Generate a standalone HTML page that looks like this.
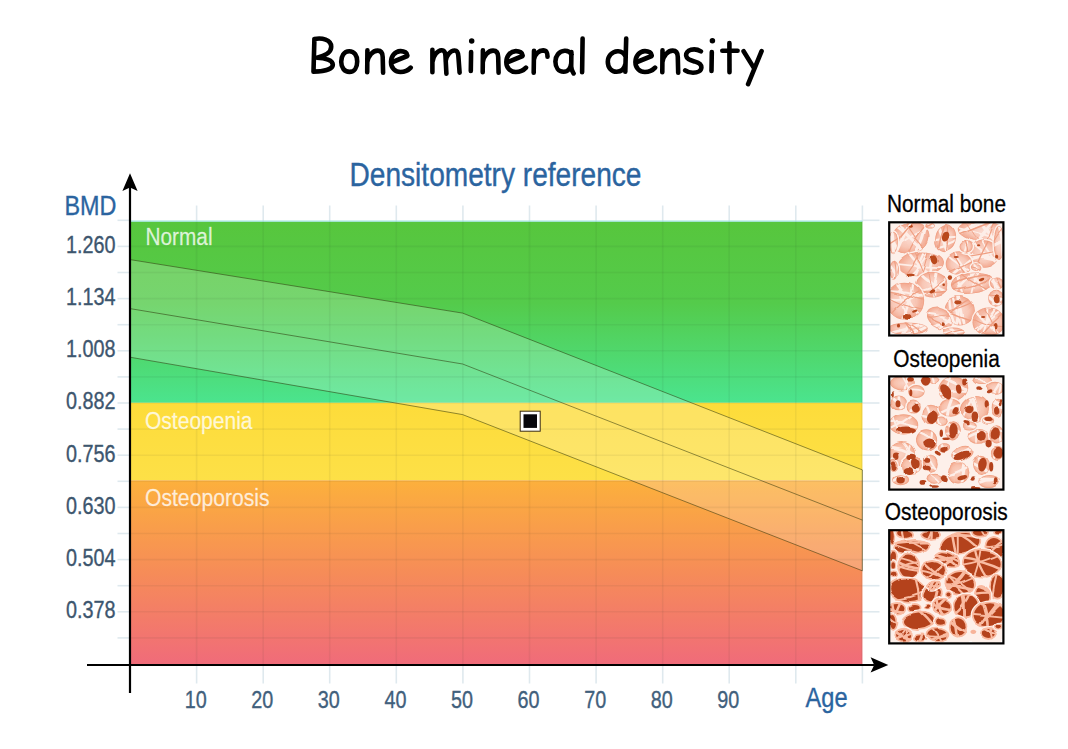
<!DOCTYPE html>
<html><head><meta charset="utf-8"><title>Bone mineral density</title>
<style>
html,body{margin:0;padding:0;background:#fff;}
body{width:1068px;height:749px;overflow:hidden;font-family:"Liberation Sans",sans-serif;}
svg{display:block;}
text{font-family:"Liberation Sans",sans-serif;}
</style></head><body>
<svg width="1068" height="749" viewBox="0 0 1068 749">
<defs>
<linearGradient id="gG" x1="0" y1="0" x2="0" y2="1">
<stop offset="0" stop-color="#57c63d"/><stop offset="0.45" stop-color="#54cb4b"/><stop offset="1" stop-color="#4be48e"/>
</linearGradient>
<linearGradient id="gY" x1="0" y1="0" x2="0" y2="1">
<stop offset="0" stop-color="#fddc3a"/><stop offset="1" stop-color="#fde047"/>
</linearGradient>
<linearGradient id="gR" x1="0" y1="0" x2="0" y2="1">
<stop offset="0" stop-color="#fcb03c"/><stop offset="0.5" stop-color="#f68c58"/><stop offset="1" stop-color="#f06b7a"/>
</linearGradient>
<radialGradient id="salmG" cx="0.5" cy="0.5" r="0.5"><stop offset="0" stop-color="#fbdad0"/><stop offset="0.6" stop-color="#f8c7b6"/><stop offset="1" stop-color="#f2a78e"/></radialGradient>
<radialGradient id="salmG2" cx="0.5" cy="0.5" r="0.5"><stop offset="0" stop-color="#fad2c4"/><stop offset="0.65" stop-color="#f8c2ad"/><stop offset="1" stop-color="#f3a98e"/></radialGradient>
<filter id="soft" x="-5%" y="-5%" width="110%" height="110%"><feTurbulence type="fractalNoise" baseFrequency="0.035" numOctaves="1" seed="4" result="n"/><feDisplacementMap in="SourceGraphic" in2="n" scale="7" xChannelSelector="R" yChannelSelector="G" result="d"/><feGaussianBlur in="d" stdDeviation="0.6"/></filter>
</defs>
<rect width="{W}" height="{H}" fill="#fff"/>

<g stroke="#dfe9ee" stroke-width="1.6">
<line x1="117.5" y1="220.3" x2="130.0" y2="220.3"/>
<line x1="862.4" y1="220.3" x2="879.5" y2="220.3"/>
<line x1="117.5" y1="246.4" x2="130.0" y2="246.4"/>
<line x1="862.4" y1="246.4" x2="879.5" y2="246.4"/>
<line x1="117.5" y1="272.5" x2="130.0" y2="272.5"/>
<line x1="862.4" y1="272.5" x2="879.5" y2="272.5"/>
<line x1="117.5" y1="298.6" x2="130.0" y2="298.6"/>
<line x1="862.4" y1="298.6" x2="879.5" y2="298.6"/>
<line x1="117.5" y1="324.7" x2="130.0" y2="324.7"/>
<line x1="862.4" y1="324.7" x2="879.5" y2="324.7"/>
<line x1="117.5" y1="350.8" x2="130.0" y2="350.8"/>
<line x1="862.4" y1="350.8" x2="879.5" y2="350.8"/>
<line x1="117.5" y1="376.9" x2="130.0" y2="376.9"/>
<line x1="862.4" y1="376.9" x2="879.5" y2="376.9"/>
<line x1="117.5" y1="403.0" x2="130.0" y2="403.0"/>
<line x1="862.4" y1="403.0" x2="879.5" y2="403.0"/>
<line x1="117.5" y1="429.1" x2="130.0" y2="429.1"/>
<line x1="862.4" y1="429.1" x2="879.5" y2="429.1"/>
<line x1="117.5" y1="455.2" x2="130.0" y2="455.2"/>
<line x1="862.4" y1="455.2" x2="879.5" y2="455.2"/>
<line x1="117.5" y1="481.3" x2="130.0" y2="481.3"/>
<line x1="862.4" y1="481.3" x2="879.5" y2="481.3"/>
<line x1="117.5" y1="507.4" x2="130.0" y2="507.4"/>
<line x1="862.4" y1="507.4" x2="879.5" y2="507.4"/>
<line x1="117.5" y1="533.5" x2="130.0" y2="533.5"/>
<line x1="862.4" y1="533.5" x2="879.5" y2="533.5"/>
<line x1="117.5" y1="559.6" x2="130.0" y2="559.6"/>
<line x1="862.4" y1="559.6" x2="879.5" y2="559.6"/>
<line x1="117.5" y1="585.7" x2="130.0" y2="585.7"/>
<line x1="862.4" y1="585.7" x2="879.5" y2="585.7"/>
<line x1="117.5" y1="611.8" x2="130.0" y2="611.8"/>
<line x1="862.4" y1="611.8" x2="879.5" y2="611.8"/>
<line x1="117.5" y1="637.9" x2="130.0" y2="637.9"/>
<line x1="862.4" y1="637.9" x2="879.5" y2="637.9"/>
<line x1="196.6" y1="205.5" x2="196.6" y2="221.5"/>
<line x1="196.6" y1="664.0" x2="196.6" y2="683.5"/>
<line x1="263.2" y1="205.5" x2="263.2" y2="221.5"/>
<line x1="263.2" y1="664.0" x2="263.2" y2="683.5"/>
<line x1="329.7" y1="205.5" x2="329.7" y2="221.5"/>
<line x1="329.7" y1="664.0" x2="329.7" y2="683.5"/>
<line x1="396.3" y1="205.5" x2="396.3" y2="221.5"/>
<line x1="396.3" y1="664.0" x2="396.3" y2="683.5"/>
<line x1="462.9" y1="205.5" x2="462.9" y2="221.5"/>
<line x1="462.9" y1="664.0" x2="462.9" y2="683.5"/>
<line x1="529.5" y1="205.5" x2="529.5" y2="221.5"/>
<line x1="529.5" y1="664.0" x2="529.5" y2="683.5"/>
<line x1="596.1" y1="205.5" x2="596.1" y2="221.5"/>
<line x1="596.1" y1="664.0" x2="596.1" y2="683.5"/>
<line x1="662.7" y1="205.5" x2="662.7" y2="221.5"/>
<line x1="662.7" y1="664.0" x2="662.7" y2="683.5"/>
<line x1="729.2" y1="205.5" x2="729.2" y2="221.5"/>
<line x1="729.2" y1="664.0" x2="729.2" y2="683.5"/>
<line x1="795.8" y1="205.5" x2="795.8" y2="221.5"/>
<line x1="795.8" y1="664.0" x2="795.8" y2="683.5"/>
<line x1="862.4" y1="205.5" x2="862.4" y2="221.5"/>
<line x1="862.4" y1="664.0" x2="862.4" y2="683.5"/>
</g>
<rect x="130.0" y="221.5" width="732.4" height="181.3" fill="url(#gG)"/>
<rect x="130.0" y="402.8" width="732.4" height="77.5" fill="url(#gY)"/>
<rect x="130.0" y="480.3" width="732.4" height="184.7" fill="url(#gR)"/>
<line x1="130.0" y1="221.2" x2="862.4" y2="221.2" stroke="#9fe6e0" stroke-width="1.2"/>
<polygon points="130.0,259.6 462.6,313.1 862.4,469.9 862.4,570.8 462.6,414.6 130.0,357.2" fill="#fff" fill-opacity="0.2"/>
<g stroke="#2a3a20" stroke-opacity="0.06" stroke-width="1.6">
<line x1="130.0" y1="246.4" x2="862.4" y2="246.4"/>
<line x1="130.0" y1="272.5" x2="862.4" y2="272.5"/>
<line x1="130.0" y1="298.6" x2="862.4" y2="298.6"/>
<line x1="130.0" y1="324.7" x2="862.4" y2="324.7"/>
<line x1="130.0" y1="350.8" x2="862.4" y2="350.8"/>
<line x1="130.0" y1="376.9" x2="862.4" y2="376.9"/>
<line x1="130.0" y1="403.0" x2="862.4" y2="403.0"/>
<line x1="130.0" y1="429.1" x2="862.4" y2="429.1"/>
<line x1="130.0" y1="455.2" x2="862.4" y2="455.2"/>
<line x1="130.0" y1="481.3" x2="862.4" y2="481.3"/>
<line x1="130.0" y1="507.4" x2="862.4" y2="507.4"/>
<line x1="130.0" y1="533.5" x2="862.4" y2="533.5"/>
<line x1="130.0" y1="559.6" x2="862.4" y2="559.6"/>
<line x1="130.0" y1="585.7" x2="862.4" y2="585.7"/>
<line x1="130.0" y1="611.8" x2="862.4" y2="611.8"/>
<line x1="130.0" y1="637.9" x2="862.4" y2="637.9"/>
<line x1="196.6" y1="221.5" x2="196.6" y2="664.0"/>
<line x1="263.2" y1="221.5" x2="263.2" y2="664.0"/>
<line x1="329.7" y1="221.5" x2="329.7" y2="664.0"/>
<line x1="396.3" y1="221.5" x2="396.3" y2="664.0"/>
<line x1="462.9" y1="221.5" x2="462.9" y2="664.0"/>
<line x1="529.5" y1="221.5" x2="529.5" y2="664.0"/>
<line x1="596.1" y1="221.5" x2="596.1" y2="664.0"/>
<line x1="662.7" y1="221.5" x2="662.7" y2="664.0"/>
<line x1="729.2" y1="221.5" x2="729.2" y2="664.0"/>
<line x1="795.8" y1="221.5" x2="795.8" y2="664.0"/>
<line x1="861.8" y1="221.5" x2="861.8" y2="664.0"/>
</g>
<g fill="none" stroke="#2a3208" stroke-opacity="0.62" stroke-width="0.85">
<polygon points="130.0,259.6 462.6,313.1 862.4,469.9 862.4,570.8 462.6,414.6 130.0,357.2"/>
<polyline points="130.0,308.6 462.6,364.0 862.4,520.1"/>
</g>
<text x="145.5" y="245.4" textLength="67" fill="#fff" fill-opacity="0.78" stroke="#fff" stroke-opacity="0.5" stroke-width="0.3" font-size="23.5" lengthAdjust="spacingAndGlyphs">Normal</text>
<text x="145" y="429" textLength="107.5" fill="#fff" fill-opacity="0.78" stroke="#fff" stroke-opacity="0.5" stroke-width="0.3" font-size="23.5" lengthAdjust="spacingAndGlyphs">Osteopenia</text>
<text x="145" y="506.4" textLength="124.5" fill="#fff" fill-opacity="0.78" stroke="#fff" stroke-opacity="0.5" stroke-width="0.3" font-size="23.5" lengthAdjust="spacingAndGlyphs">Osteoporosis</text>
<rect x="520.2" y="411.2" width="20" height="20" fill="#fff" stroke="#3a2c10" stroke-width="1"/>
<rect x="523.5" y="414.3" width="13.5" height="13.6" fill="#07070c"/>
<g stroke="#000" stroke-width="2.2" fill="none">
<line x1="130" y1="186" x2="130" y2="693"/>
<line x1="87" y1="665" x2="874" y2="665"/>
</g>
<path d="M130 173.2 L137.6 191 L130 187.6 L122.4 191 Z" fill="#000"/>
<path d="M888.3 665 L870.6 657.3 L874.2 665 L870.6 672.6 Z" fill="#000"/>
<text x="115.6" y="252.7" text-anchor="end" textLength="49.5" lengthAdjust="spacingAndGlyphs" font-size="23" fill="#3d566e" stroke="#3d566e" stroke-width="0.35">1.260</text>
<text x="115.6" y="304.9" text-anchor="end" textLength="49.5" lengthAdjust="spacingAndGlyphs" font-size="23" fill="#3d566e" stroke="#3d566e" stroke-width="0.35">1.134</text>
<text x="115.6" y="357.1" text-anchor="end" textLength="49.5" lengthAdjust="spacingAndGlyphs" font-size="23" fill="#3d566e" stroke="#3d566e" stroke-width="0.35">1.008</text>
<text x="115.6" y="409.3" text-anchor="end" textLength="49.5" lengthAdjust="spacingAndGlyphs" font-size="23" fill="#3d566e" stroke="#3d566e" stroke-width="0.35">0.882</text>
<text x="115.6" y="461.5" text-anchor="end" textLength="49.5" lengthAdjust="spacingAndGlyphs" font-size="23" fill="#3d566e" stroke="#3d566e" stroke-width="0.35">0.756</text>
<text x="115.6" y="513.7" text-anchor="end" textLength="49.5" lengthAdjust="spacingAndGlyphs" font-size="23" fill="#3d566e" stroke="#3d566e" stroke-width="0.35">0.630</text>
<text x="115.6" y="565.9" text-anchor="end" textLength="49.5" lengthAdjust="spacingAndGlyphs" font-size="23" fill="#3d566e" stroke="#3d566e" stroke-width="0.35">0.504</text>
<text x="115.6" y="618.1" text-anchor="end" textLength="49.5" lengthAdjust="spacingAndGlyphs" font-size="23" fill="#3d566e" stroke="#3d566e" stroke-width="0.35">0.378</text>
<text x="195.7" y="708.2" text-anchor="middle" textLength="22.0" lengthAdjust="spacingAndGlyphs" font-size="24" fill="#41607c" stroke="#41607c" stroke-width="0.35">10</text>
<text x="262.3" y="708.2" text-anchor="middle" textLength="22.0" lengthAdjust="spacingAndGlyphs" font-size="24" fill="#41607c" stroke="#41607c" stroke-width="0.35">20</text>
<text x="328.8" y="708.2" text-anchor="middle" textLength="22.0" lengthAdjust="spacingAndGlyphs" font-size="24" fill="#41607c" stroke="#41607c" stroke-width="0.35">30</text>
<text x="395.4" y="708.2" text-anchor="middle" textLength="22.0" lengthAdjust="spacingAndGlyphs" font-size="24" fill="#41607c" stroke="#41607c" stroke-width="0.35">40</text>
<text x="462.0" y="708.2" text-anchor="middle" textLength="22.0" lengthAdjust="spacingAndGlyphs" font-size="24" fill="#41607c" stroke="#41607c" stroke-width="0.35">50</text>
<text x="528.6" y="708.2" text-anchor="middle" textLength="22.0" lengthAdjust="spacingAndGlyphs" font-size="24" fill="#41607c" stroke="#41607c" stroke-width="0.35">60</text>
<text x="595.2" y="708.2" text-anchor="middle" textLength="22.0" lengthAdjust="spacingAndGlyphs" font-size="24" fill="#41607c" stroke="#41607c" stroke-width="0.35">70</text>
<text x="661.8" y="708.2" text-anchor="middle" textLength="22.0" lengthAdjust="spacingAndGlyphs" font-size="24" fill="#41607c" stroke="#41607c" stroke-width="0.35">80</text>
<text x="728.3" y="708.2" text-anchor="middle" textLength="22.0" lengthAdjust="spacingAndGlyphs" font-size="24" fill="#41607c" stroke="#41607c" stroke-width="0.35">90</text>
<text x="64.4" y="214.6" textLength="52" lengthAdjust="spacingAndGlyphs" font-size="27.6" fill="#2b649f" stroke="#2b649f" stroke-width="0.35">BMD</text>
<text x="805.6" y="706.6" textLength="42" lengthAdjust="spacingAndGlyphs" font-size="27.4" fill="#2b649f" stroke="#2b649f" stroke-width="0.35">Age</text>
<text x="349.5" y="186.4" textLength="292" lengthAdjust="spacingAndGlyphs" font-size="33" fill="#2b649f" stroke="#2b649f" stroke-width="0.4">Densitometry reference</text>
<!--BONES-->
<text x="887.0" y="212.4" textLength="119" lengthAdjust="spacingAndGlyphs" font-size="23.3" fill="#000" stroke="#000" stroke-width="0.3">Normal bone</text>
<clipPath id="bnc"><rect x="889.3" y="222.4" width="114.0" height="113.0"/></clipPath>
<g clip-path="url(#bnc)" filter="url(#soft)">
<rect x="889.3" y="222.4" width="114.0" height="113.0" fill="#fdf0ea"/>
<clipPath id="bn0"><ellipse cx="910.0" cy="238.2" rx="19.9" ry="16.1" transform="rotate(-20 910.0 238.2)"/></clipPath>
<ellipse cx="910.0" cy="238.2" rx="21.3" ry="17.5" fill="#fdf0ea" transform="rotate(-20 910.0 238.2)"/>
<g clip-path="url(#bn0)">
<ellipse cx="910.0" cy="238.2" rx="19.9" ry="16.1" fill="url(#salmG)" transform="rotate(-20 910.0 238.2)"/>
<path d="M892.0 222.5 Q911.0 237.1 927.0 254.9" stroke="#fdeee8" stroke-width="2.66" fill="none"/>
<path d="M926.4 218.7 Q924.7 243.8 908.0 262.6" stroke="#fdeee8" stroke-width="3.01" fill="none"/>
<path d="M897.1 218.3 Q907.5 241.3 929.8 252.9" stroke="#fdeee8" stroke-width="2.46" fill="none"/>
<path d="M931.0 226.8 Q909.1 236.5 889.5 250.2" stroke="#fdeee8" stroke-width="1.98" fill="none"/>
<path d="M913.8 214.3 Q903.7 235.9 894.2 257.8" stroke="#fdeee8" stroke-width="2.86" fill="none"/>
<path d="M928.9 221.0 Q913.0 239.3 904.5 261.9" stroke="#ef9f82" stroke-width="1.27" fill="none"/>
<path d="M902.9 214.9 Q911.9 237.8 930.8 253.6" stroke="#ef9f82" stroke-width="1.18" fill="none"/>
<path d="M919.9 216.3 Q902.0 232.5 889.7 253.2" stroke="#ef9f82" stroke-width="1.50" fill="none"/>
<ellipse cx="910.0" cy="238.2" rx="19.9" ry="16.1" fill="none" transform="rotate(-20 910.0 238.2)" stroke="#ef9d80" stroke-width="1.4" stroke-opacity="0.7"/>
</g>
<clipPath id="bn1"><ellipse cx="945.6" cy="238.6" rx="10.4" ry="13.6" transform="rotate(10 945.6 238.6)"/></clipPath>
<ellipse cx="945.6" cy="238.6" rx="11.8" ry="15.1" fill="#fdf0ea" transform="rotate(10 945.6 238.6)"/>
<g clip-path="url(#bn1)">
<ellipse cx="945.6" cy="238.6" rx="10.4" ry="13.6" fill="url(#salmG)" transform="rotate(10 945.6 238.6)"/>
<path d="M937.7 224.3 Q943.5 239.5 948.2 255.2" stroke="#fdeee8" stroke-width="3.15" fill="none"/>
<path d="M962.2 237.1 Q948.6 247.0 931.8 249.2" stroke="#fdeee8" stroke-width="2.08" fill="none"/>
<path d="M961.9 237.6 Q945.5 237.9 929.4 241.1" stroke="#fdeee8" stroke-width="2.20" fill="none"/>
<path d="M947.1 222.2 Q948.4 238.6 946.3 254.9" stroke="#ef9f82" stroke-width="1.26" fill="none"/>
<path d="M946.2 221.5 Q940.0 236.7 937.7 253.0" stroke="#ef9f82" stroke-width="1.51" fill="none"/>
<ellipse cx="945.6" cy="238.6" rx="10.4" ry="13.6" fill="none" transform="rotate(10 945.6 238.6)" stroke="#ef9d80" stroke-width="1.4" stroke-opacity="0.7"/>
</g>
<clipPath id="bn2"><ellipse cx="982.2" cy="231.8" rx="24.6" ry="11.3" transform="rotate(5 982.2 231.8)"/></clipPath>
<ellipse cx="982.2" cy="231.8" rx="26.0" ry="12.8" fill="#fdf0ea" transform="rotate(5 982.2 231.8)"/>
<g clip-path="url(#bn2)">
<ellipse cx="982.2" cy="231.8" rx="24.6" ry="11.3" fill="url(#salmG)" transform="rotate(5 982.2 231.8)"/>
<path d="M1004.0 214.4 Q975.9 224.1 950.9 240.2" stroke="#fdeee8" stroke-width="1.99" fill="none"/>
<path d="M1004.5 215.0 Q974.3 220.0 951.1 240.0" stroke="#fdeee8" stroke-width="2.60" fill="none"/>
<path d="M1005.5 210.6 Q981.8 229.4 968.8 256.7" stroke="#fdeee8" stroke-width="2.61" fill="none"/>
<path d="M971.2 206.0 Q984.0 233.6 1008.1 252.1" stroke="#fdeee8" stroke-width="3.23" fill="none"/>
<path d="M952.0 226.7 Q980.8 233.0 1008.7 242.9" stroke="#fdeee8" stroke-width="1.98" fill="none"/>
<path d="M959.6 209.9 Q971.3 238.1 995.2 257.0" stroke="#ef9f82" stroke-width="0.87" fill="none"/>
<path d="M1002.0 205.8 Q987.4 231.9 981.2 261.1" stroke="#ef9f82" stroke-width="1.08" fill="none"/>
<path d="M1005.7 216.5 Q978.2 227.1 950.8 238.0" stroke="#ef9f82" stroke-width="1.56" fill="none"/>
<ellipse cx="982.2" cy="231.8" rx="24.6" ry="11.3" fill="none" transform="rotate(5 982.2 231.8)" stroke="#ef9d80" stroke-width="1.4" stroke-opacity="0.7"/>
</g>
<clipPath id="bn3"><ellipse cx="983.8" cy="253.5" rx="15.1" ry="13.2"/></clipPath>
<ellipse cx="983.8" cy="253.5" rx="16.6" ry="14.7" fill="#fdf0ea"/>
<g clip-path="url(#bn3)">
<ellipse cx="983.8" cy="253.5" rx="15.1" ry="13.2" fill="url(#salmG)"/>
<path d="M978.3 235.6 Q987.5 251.3 998.7 265.6" stroke="#fdeee8" stroke-width="1.80" fill="none"/>
<path d="M969.7 242.0 Q983.7 253.7 999.3 263.1" stroke="#fdeee8" stroke-width="1.98" fill="none"/>
<path d="M965.1 255.4 Q983.4 255.5 1001.1 260.2" stroke="#fdeee8" stroke-width="3.19" fill="none"/>
<path d="M1001.5 249.0 Q984.4 255.3 967.1 260.6" stroke="#fdeee8" stroke-width="2.53" fill="none"/>
<path d="M990.5 236.6 Q981.9 252.6 974.7 269.3" stroke="#ef9f82" stroke-width="1.29" fill="none"/>
<path d="M1001.6 250.0 Q983.9 254.2 965.9 256.7" stroke="#ef9f82" stroke-width="1.36" fill="none"/>
<ellipse cx="983.8" cy="253.5" rx="15.1" ry="13.2" fill="none" stroke="#ef9d80" stroke-width="1.4" stroke-opacity="0.7"/>
</g>
<clipPath id="bn4"><ellipse cx="920.5" cy="263.9" rx="23.6" ry="12.3" transform="rotate(-5 920.5 263.9)"/></clipPath>
<ellipse cx="920.5" cy="263.9" rx="25.1" ry="13.7" fill="#fdf0ea" transform="rotate(-5 920.5 263.9)"/>
<g clip-path="url(#bn4)">
<ellipse cx="920.5" cy="263.9" rx="23.6" ry="12.3" fill="url(#salmG)" transform="rotate(-5 920.5 263.9)"/>
<path d="M902.5 243.0 Q916.9 269.2 944.2 281.5" stroke="#fdeee8" stroke-width="2.53" fill="none"/>
<path d="M935.0 236.7 Q932.4 264.9 926.4 292.7" stroke="#fdeee8" stroke-width="2.62" fill="none"/>
<path d="M892.0 263.4 Q920.1 267.8 948.6 266.9" stroke="#fdeee8" stroke-width="1.84" fill="none"/>
<path d="M932.2 237.9 Q917.8 262.6 910.1 290.1" stroke="#fdeee8" stroke-width="2.28" fill="none"/>
<path d="M933.6 239.7 Q924.0 268.0 899.3 284.9" stroke="#fdeee8" stroke-width="1.84" fill="none"/>
<path d="M927.0 237.0 Q916.3 263.8 897.2 285.3" stroke="#ef9f82" stroke-width="1.17" fill="none"/>
<path d="M932.3 237.3 Q926.7 265.2 916.0 291.6" stroke="#ef9f82" stroke-width="1.07" fill="none"/>
<path d="M907.3 238.3 Q922.2 262.7 929.9 290.3" stroke="#ef9f82" stroke-width="1.11" fill="none"/>
<ellipse cx="920.5" cy="263.9" rx="23.6" ry="12.3" fill="none" transform="rotate(-5 920.5 263.9)" stroke="#ef9d80" stroke-width="1.4" stroke-opacity="0.7"/>
</g>
<clipPath id="bn5"><ellipse cx="958.9" cy="263.9" rx="13.2" ry="11.7"/></clipPath>
<ellipse cx="958.9" cy="263.9" rx="14.7" ry="13.2" fill="#fdf0ea"/>
<g clip-path="url(#bn5)">
<ellipse cx="958.9" cy="263.9" rx="13.2" ry="11.7" fill="url(#salmG)"/>
<path d="M974.6 257.2 Q962.1 267.1 950.6 278.1" stroke="#fdeee8" stroke-width="2.85" fill="none"/>
<path d="M952.7 249.1 Q958.9 264.1 970.6 275.4" stroke="#fdeee8" stroke-width="2.11" fill="none"/>
<path d="M946.1 254.5 Q958.1 265.1 972.6 272.1" stroke="#fdeee8" stroke-width="1.90" fill="none"/>
<path d="M952.2 249.5 Q957.5 264.9 969.0 276.4" stroke="#ef9f82" stroke-width="1.16" fill="none"/>
<path d="M974.9 260.0 Q961.4 268.6 946.4 274.0" stroke="#ef9f82" stroke-width="1.31" fill="none"/>
<ellipse cx="958.9" cy="263.9" rx="13.2" ry="11.7" fill="none" stroke="#ef9d80" stroke-width="1.4" stroke-opacity="0.7"/>
</g>
<clipPath id="bn6"><ellipse cx="931.7" cy="284.7" rx="16.6" ry="12.9"/></clipPath>
<ellipse cx="931.7" cy="284.7" rx="18.1" ry="14.3" fill="#fdf0ea"/>
<g clip-path="url(#bn6)">
<ellipse cx="931.7" cy="284.7" rx="16.6" ry="12.9" fill="url(#salmG)"/>
<path d="M950.6 278.2 Q933.3 288.8 913.3 292.3" stroke="#fdeee8" stroke-width="1.93" fill="none"/>
<path d="M938.1 265.2 Q932.0 284.6 934.4 304.9" stroke="#fdeee8" stroke-width="3.01" fill="none"/>
<path d="M916.7 271.7 Q931.1 286.2 950.2 293.4" stroke="#fdeee8" stroke-width="2.71" fill="none"/>
<path d="M949.4 274.8 Q936.0 290.4 916.6 297.6" stroke="#fdeee8" stroke-width="2.19" fill="none"/>
<path d="M949.7 274.8 Q935.0 288.5 917.8 298.9" stroke="#ef9f82" stroke-width="1.14" fill="none"/>
<path d="M928.0 265.1 Q927.3 285.9 938.0 303.8" stroke="#ef9f82" stroke-width="0.95" fill="none"/>
<path d="M911.6 289.5 Q931.5 295.1 951.5 290.1" stroke="#ef9f82" stroke-width="1.55" fill="none"/>
<ellipse cx="931.7" cy="284.7" rx="16.6" ry="12.9" fill="none" stroke="#ef9d80" stroke-width="1.4" stroke-opacity="0.7"/>
</g>
<clipPath id="bn7"><ellipse cx="972.5" cy="283.1" rx="20.8" ry="10.4" transform="rotate(-10 972.5 283.1)"/></clipPath>
<ellipse cx="972.5" cy="283.1" rx="22.2" ry="11.8" fill="#fdf0ea" transform="rotate(-10 972.5 283.1)"/>
<g clip-path="url(#bn7)">
<ellipse cx="972.5" cy="283.1" rx="20.8" ry="10.4" fill="url(#salmG)" transform="rotate(-10 972.5 283.1)"/>
<path d="M959.2 259.5 Q957.0 285.5 969.4 308.4" stroke="#fdeee8" stroke-width="2.08" fill="none"/>
<path d="M985.4 263.0 Q966.0 278.9 950.6 298.8" stroke="#fdeee8" stroke-width="2.53" fill="none"/>
<path d="M959.5 262.5 Q978.6 279.3 990.2 301.9" stroke="#fdeee8" stroke-width="1.85" fill="none"/>
<path d="M983.2 259.7 Q971.2 282.2 969.5 307.6" stroke="#fdeee8" stroke-width="1.82" fill="none"/>
<path d="M995.3 273.9 Q969.2 274.3 947.6 288.8" stroke="#ef9f82" stroke-width="1.49" fill="none"/>
<path d="M995.8 274.7 Q974.7 290.5 948.4 290.2" stroke="#ef9f82" stroke-width="1.38" fill="none"/>
<path d="M953.1 268.7 Q973.0 283.9 995.9 294.3" stroke="#ef9f82" stroke-width="1.22" fill="none"/>
<ellipse cx="972.5" cy="283.1" rx="20.8" ry="10.4" fill="none" transform="rotate(-10 972.5 283.1)" stroke="#ef9d80" stroke-width="1.4" stroke-opacity="0.7"/>
</g>
<clipPath id="bn8"><ellipse cx="996.6" cy="283.1" rx="7.6" ry="6.6"/></clipPath>
<ellipse cx="996.6" cy="283.1" rx="9.0" ry="8.1" fill="#fdf0ea"/>
<g clip-path="url(#bn8)">
<ellipse cx="996.6" cy="283.1" rx="7.6" ry="6.6" fill="url(#salmG)"/>
<path d="M991.3 275.1 Q993.0 284.0 996.1 292.5" stroke="#fdeee8" stroke-width="2.26" fill="none"/>
<path d="M988.5 278.1 Q994.9 284.5 1001.2 291.1" stroke="#fdeee8" stroke-width="2.92" fill="none"/>
<path d="M994.3 274.2 Q998.2 282.4 1002.5 290.4" stroke="#ef9f82" stroke-width="1.43" fill="none"/>
<ellipse cx="996.6" cy="283.1" rx="7.6" ry="6.6" fill="none" stroke="#ef9d80" stroke-width="1.4" stroke-opacity="0.7"/>
</g>
<clipPath id="bn9"><ellipse cx="996.6" cy="298.3" rx="8.5" ry="8.5"/></clipPath>
<ellipse cx="996.6" cy="298.3" rx="10.0" ry="10.0" fill="#fdf0ea"/>
<g clip-path="url(#bn9)">
<ellipse cx="996.6" cy="298.3" rx="8.5" ry="8.5" fill="url(#salmG)"/>
<path d="M986.7 295.0 Q993.9 302.8 1004.2 305.5" stroke="#fdeee8" stroke-width="2.96" fill="none"/>
<path d="M1007.2 296.2 Q998.1 300.8 989.9 306.9" stroke="#fdeee8" stroke-width="3.04" fill="none"/>
<path d="M986.8 295.0 Q997.1 295.0 1006.9 298.2" stroke="#ef9f82" stroke-width="1.22" fill="none"/>
<ellipse cx="996.6" cy="298.3" rx="8.5" ry="8.5" fill="none" stroke="#ef9d80" stroke-width="1.4" stroke-opacity="0.7"/>
</g>
<clipPath id="bn10"><ellipse cx="905.2" cy="300.7" rx="18.0" ry="18.9"/></clipPath>
<ellipse cx="905.2" cy="300.7" rx="19.4" ry="20.4" fill="#fdf0ea"/>
<g clip-path="url(#bn10)">
<ellipse cx="905.2" cy="300.7" rx="18.0" ry="18.9" fill="url(#salmG)"/>
<path d="M900.2 278.6 Q901.4 301.7 911.1 322.7" stroke="#fdeee8" stroke-width="1.75" fill="none"/>
<path d="M883.9 290.6 Q907.3 288.6 928.6 298.4" stroke="#fdeee8" stroke-width="1.85" fill="none"/>
<path d="M927.4 292.9 Q905.3 301.3 882.2 296.5" stroke="#fdeee8" stroke-width="2.50" fill="none"/>
<path d="M895.3 280.0 Q909.7 297.7 920.1 318.0" stroke="#fdeee8" stroke-width="2.72" fill="none"/>
<path d="M913.5 279.5 Q912.1 302.7 901.3 323.2" stroke="#fdeee8" stroke-width="2.24" fill="none"/>
<path d="M883.9 293.0 Q903.6 304.8 925.9 310.2" stroke="#ef9f82" stroke-width="1.11" fill="none"/>
<path d="M884.5 289.8 Q907.0 293.5 928.5 301.1" stroke="#ef9f82" stroke-width="1.28" fill="none"/>
<path d="M924.1 288.0 Q903.4 298.6 888.8 316.6" stroke="#ef9f82" stroke-width="1.29" fill="none"/>
<ellipse cx="905.2" cy="300.7" rx="18.0" ry="18.9" fill="none" stroke="#ef9d80" stroke-width="1.4" stroke-opacity="0.7"/>
</g>
<clipPath id="bn11"><ellipse cx="959.7" cy="310.3" rx="15.1" ry="14.2"/></clipPath>
<ellipse cx="959.7" cy="310.3" rx="16.6" ry="15.6" fill="#fdf0ea"/>
<g clip-path="url(#bn11)">
<ellipse cx="959.7" cy="310.3" rx="15.1" ry="14.2" fill="url(#salmG)"/>
<path d="M957.5 292.3 Q961.5 310.0 965.3 327.7" stroke="#fdeee8" stroke-width="2.80" fill="none"/>
<path d="M952.7 293.4 Q957.6 310.8 961.6 328.5" stroke="#fdeee8" stroke-width="2.12" fill="none"/>
<path d="M959.1 292.0 Q962.5 310.7 955.0 328.1" stroke="#fdeee8" stroke-width="2.39" fill="none"/>
<path d="M950.5 293.8 Q949.3 312.7 958.9 329.1" stroke="#fdeee8" stroke-width="2.31" fill="none"/>
<path d="M975.7 301.1 Q959.4 309.7 941.2 312.5" stroke="#ef9f82" stroke-width="1.17" fill="none"/>
<path d="M941.3 307.2 Q957.3 316.0 974.9 320.9" stroke="#ef9f82" stroke-width="1.48" fill="none"/>
<path d="M972.8 297.6 Q956.5 306.3 943.9 319.7" stroke="#ef9f82" stroke-width="1.25" fill="none"/>
<ellipse cx="959.7" cy="310.3" rx="15.1" ry="14.2" fill="none" stroke="#ef9d80" stroke-width="1.4" stroke-opacity="0.7"/>
</g>
<clipPath id="bn12"><ellipse cx="938.9" cy="318.4" rx="14.2" ry="10.4" transform="rotate(20 938.9 318.4)"/></clipPath>
<ellipse cx="938.9" cy="318.4" rx="15.6" ry="11.8" fill="#fdf0ea" transform="rotate(20 938.9 318.4)"/>
<g clip-path="url(#bn12)">
<ellipse cx="938.9" cy="318.4" rx="14.2" ry="10.4" fill="url(#salmG)" transform="rotate(20 938.9 318.4)"/>
<path d="M922.4 313.7 Q940.4 313.5 954.7 324.6" stroke="#fdeee8" stroke-width="1.97" fill="none"/>
<path d="M955.6 310.5 Q945.8 325.3 929.8 332.7" stroke="#fdeee8" stroke-width="1.90" fill="none"/>
<path d="M956.2 314.9 Q942.5 326.4 924.6 327.4" stroke="#fdeee8" stroke-width="3.01" fill="none"/>
<path d="M921.5 315.0 Q936.5 323.3 953.1 327.7" stroke="#ef9f82" stroke-width="1.44" fill="none"/>
<path d="M955.6 315.1 Q938.2 314.1 921.9 320.2" stroke="#ef9f82" stroke-width="0.87" fill="none"/>
<ellipse cx="938.9" cy="318.4" rx="14.2" ry="10.4" fill="none" transform="rotate(20 938.9 318.4)" stroke="#ef9d80" stroke-width="1.4" stroke-opacity="0.7"/>
</g>
<clipPath id="bn13"><ellipse cx="988.6" cy="321.6" rx="16.1" ry="14.2"/></clipPath>
<ellipse cx="988.6" cy="321.6" rx="17.5" ry="15.6" fill="#fdf0ea"/>
<g clip-path="url(#bn13)">
<ellipse cx="988.6" cy="321.6" rx="16.1" ry="14.2" fill="url(#salmG)"/>
<path d="M1002.8 308.6 Q986.5 319.3 974.1 334.3" stroke="#fdeee8" stroke-width="1.91" fill="none"/>
<path d="M997.7 304.0 Q988.3 321.8 970.5 331.3" stroke="#fdeee8" stroke-width="2.24" fill="none"/>
<path d="M987.8 301.8 Q987.3 321.4 980.1 339.6" stroke="#fdeee8" stroke-width="2.02" fill="none"/>
<path d="M973.7 309.0 Q985.0 325.0 1001.0 336.2" stroke="#fdeee8" stroke-width="2.34" fill="none"/>
<path d="M982.1 303.4 Q991.8 320.2 997.7 338.7" stroke="#ef9f82" stroke-width="1.14" fill="none"/>
<path d="M969.9 316.6 Q986.9 327.7 1007.2 326.6" stroke="#ef9f82" stroke-width="1.14" fill="none"/>
<path d="M1005.6 310.9 Q990.2 322.8 978.5 338.4" stroke="#ef9f82" stroke-width="1.38" fill="none"/>
<ellipse cx="988.6" cy="321.6" rx="16.1" ry="14.2" fill="none" stroke="#ef9d80" stroke-width="1.4" stroke-opacity="0.7"/>
</g>
<clipPath id="bn14"><ellipse cx="906.8" cy="329.6" rx="18.9" ry="6.1"/></clipPath>
<ellipse cx="906.8" cy="329.6" rx="20.4" ry="7.5" fill="#fdf0ea"/>
<g clip-path="url(#bn14)">
<ellipse cx="906.8" cy="329.6" rx="18.9" ry="6.1" fill="url(#salmG)"/>
<path d="M918.4 310.1 Q906.8 329.7 894.8 348.9" stroke="#fdeee8" stroke-width="2.71" fill="none"/>
<path d="M930.2 324.2 Q910.8 337.5 887.2 338.6" stroke="#fdeee8" stroke-width="2.87" fill="none"/>
<path d="M928.7 323.6 Q907.0 330.4 884.8 335.4" stroke="#fdeee8" stroke-width="2.83" fill="none"/>
<path d="M890.1 316.0 Q911.7 324.5 927.9 341.0" stroke="#ef9f82" stroke-width="1.26" fill="none"/>
<path d="M898.2 309.8 Q908.1 330.4 923.1 347.7" stroke="#ef9f82" stroke-width="1.53" fill="none"/>
<ellipse cx="906.8" cy="329.6" rx="18.9" ry="6.1" fill="none" stroke="#ef9d80" stroke-width="1.4" stroke-opacity="0.7"/>
</g>
<clipPath id="bn15"><ellipse cx="893.2" cy="270.3" rx="4.7" ry="9.5"/></clipPath>
<ellipse cx="893.2" cy="270.3" rx="6.2" ry="10.9" fill="#fdf0ea"/>
<g clip-path="url(#bn15)">
<ellipse cx="893.2" cy="270.3" rx="4.7" ry="9.5" fill="url(#salmG)"/>
<path d="M885.7 262.2 Q893.1 270.9 899.3 280.4" stroke="#fdeee8" stroke-width="3.03" fill="none"/>
<path d="M897.1 259.9 Q896.3 271.4 891.2 281.8" stroke="#fdeee8" stroke-width="1.78" fill="none"/>
<path d="M893.0 258.9 Q896.3 270.1 894.4 281.5" stroke="#ef9f82" stroke-width="1.10" fill="none"/>
<ellipse cx="893.2" cy="270.3" rx="4.7" ry="9.5" fill="none" stroke="#ef9d80" stroke-width="1.4" stroke-opacity="0.7"/>
</g>
<clipPath id="bn16"><ellipse cx="893.2" cy="243.0" rx="4.7" ry="11.3"/></clipPath>
<ellipse cx="893.2" cy="243.0" rx="6.2" ry="12.8" fill="#fdf0ea"/>
<g clip-path="url(#bn16)">
<ellipse cx="893.2" cy="243.0" rx="4.7" ry="11.3" fill="url(#salmG)"/>
<path d="M885.0 233.0 Q895.1 242.7 899.4 256.1" stroke="#fdeee8" stroke-width="3.24" fill="none"/>
<path d="M891.9 229.5 Q893.1 243.1 893.7 256.7" stroke="#fdeee8" stroke-width="3.00" fill="none"/>
<path d="M904.6 235.3 Q893.2 242.7 881.5 249.8" stroke="#ef9f82" stroke-width="1.36" fill="none"/>
<ellipse cx="893.2" cy="243.0" rx="4.7" ry="11.3" fill="none" stroke="#ef9d80" stroke-width="1.4" stroke-opacity="0.7"/>
</g>
<clipPath id="bn17"><ellipse cx="999.0" cy="243.0" rx="5.3" ry="17.0"/></clipPath>
<ellipse cx="999.0" cy="243.0" rx="6.7" ry="18.5" fill="#fdf0ea"/>
<g clip-path="url(#bn17)">
<ellipse cx="999.0" cy="243.0" rx="5.3" ry="17.0" fill="url(#salmG)"/>
<path d="M1017.6 235.5 Q997.7 241.4 980.8 253.3" stroke="#fdeee8" stroke-width="3.19" fill="none"/>
<path d="M998.2 222.3 Q1004.0 242.2 1002.4 262.9" stroke="#fdeee8" stroke-width="2.83" fill="none"/>
<path d="M1007.8 222.0 Q992.8 236.7 986.4 256.8" stroke="#ef9f82" stroke-width="1.01" fill="none"/>
<ellipse cx="999.0" cy="243.0" rx="5.3" ry="17.0" fill="none" stroke="#ef9d80" stroke-width="1.4" stroke-opacity="0.7"/>
</g>
<clipPath id="bn18"><ellipse cx="930.1" cy="225.7" rx="4.7" ry="2.8"/></clipPath>
<ellipse cx="930.1" cy="225.7" rx="6.2" ry="4.3" fill="#fdf0ea"/>
<g clip-path="url(#bn18)">
<ellipse cx="930.1" cy="225.7" rx="4.7" ry="2.8" fill="url(#salmG)"/>
<path d="M926.0 222.0 Q931.3 224.2 935.3 228.4" stroke="#fdeee8" stroke-width="2.81" fill="none"/>
<path d="M934.5 222.4 Q929.8 225.7 924.2 227.2" stroke="#ef9f82" stroke-width="1.46" fill="none"/>
<ellipse cx="930.1" cy="225.7" rx="4.7" ry="2.8" fill="none" stroke="#ef9d80" stroke-width="1.4" stroke-opacity="0.7"/>
</g>
<clipPath id="bn19"><ellipse cx="975.7" cy="267.1" rx="4.7" ry="3.8"/></clipPath>
<ellipse cx="975.7" cy="267.1" rx="6.2" ry="5.2" fill="#fdf0ea"/>
<g clip-path="url(#bn19)">
<ellipse cx="975.7" cy="267.1" rx="4.7" ry="3.8" fill="url(#salmG)"/>
<path d="M972.9 262.2 Q975.3 267.4 979.2 271.7" stroke="#fdeee8" stroke-width="1.88" fill="none"/>
<path d="M969.9 266.5 Q975.6 267.4 980.8 269.8" stroke="#ef9f82" stroke-width="1.10" fill="none"/>
<ellipse cx="975.7" cy="267.1" rx="4.7" ry="3.8" fill="none" stroke="#ef9d80" stroke-width="1.4" stroke-opacity="0.7"/>
</g>
<clipPath id="bn20"><ellipse cx="966.1" cy="247.8" rx="6.6" ry="5.7"/></clipPath>
<ellipse cx="966.1" cy="247.8" rx="8.1" ry="7.1" fill="#fdf0ea"/>
<g clip-path="url(#bn20)">
<ellipse cx="966.1" cy="247.8" rx="6.6" ry="5.7" fill="url(#salmG)"/>
<path d="M967.1 239.9 Q967.8 248.3 963.1 255.3" stroke="#fdeee8" stroke-width="2.25" fill="none"/>
<path d="M964.6 240.0 Q967.8 247.5 967.8 255.6" stroke="#ef9f82" stroke-width="1.26" fill="none"/>
<ellipse cx="966.1" cy="247.8" rx="6.6" ry="5.7" fill="none" stroke="#ef9d80" stroke-width="1.4" stroke-opacity="0.7"/>
</g>
<clipPath id="bn21"><ellipse cx="953.3" cy="331.2" rx="11.3" ry="4.7"/></clipPath>
<ellipse cx="953.3" cy="331.2" rx="12.8" ry="6.2" fill="#fdf0ea"/>
<g clip-path="url(#bn21)">
<ellipse cx="953.3" cy="331.2" rx="11.3" ry="4.7" fill="url(#salmG)"/>
<path d="M966.9 329.7 Q953.4 331.2 940.0 333.5" stroke="#fdeee8" stroke-width="1.93" fill="none"/>
<path d="M943.2 321.3 Q954.8 329.2 960.9 342.0" stroke="#fdeee8" stroke-width="3.08" fill="none"/>
<path d="M967.5 329.0 Q953.3 328.8 941.4 336.7" stroke="#ef9f82" stroke-width="1.11" fill="none"/>
<ellipse cx="953.3" cy="331.2" rx="11.3" ry="4.7" fill="none" stroke="#ef9d80" stroke-width="1.4" stroke-opacity="0.7"/>
</g>
<ellipse cx="945.6" cy="236.6" rx="3.5" ry="5.1" fill="#b9481f" transform="rotate(20 945.6 236.6)"/>
<ellipse cx="934.9" cy="258.7" rx="3.2" ry="4.5" fill="#b9481f" transform="rotate(-20 934.9 258.7)"/>
<ellipse cx="910.0" cy="275.1" rx="3.5" ry="1.3" fill="#b9481f"/>
<ellipse cx="930.9" cy="291.4" rx="3.5" ry="1.8" fill="#b9481f" transform="rotate(-20 930.9 291.4)"/>
<ellipse cx="950.9" cy="278.6" rx="2.2" ry="2.4" fill="#b9481f"/>
<ellipse cx="980.6" cy="279.6" rx="2.9" ry="1.4" fill="#b9481f" transform="rotate(-20 980.6 279.6)"/>
<ellipse cx="997.7" cy="299.4" rx="2.9" ry="3.8" fill="#b9481f" transform="rotate(-10 997.7 299.4)"/>
<ellipse cx="907.6" cy="316.8" rx="3.8" ry="2.9" fill="#b9481f"/>
<ellipse cx="958.9" cy="302.3" rx="3.5" ry="2.1" fill="#b9481f"/>
<ellipse cx="942.9" cy="323.2" rx="1.9" ry="1.9" fill="#b9481f"/>
<ellipse cx="994.7" cy="326.1" rx="1.8" ry="3.2" fill="#b9481f"/>
<ellipse cx="898.5" cy="326.7" rx="1.6" ry="1.9" fill="#b9481f"/>
<ellipse cx="996.6" cy="256.7" rx="1.6" ry="1.9" fill="#b9481f"/>
<ellipse cx="943.7" cy="284.7" rx="1.3" ry="1.3" fill="#b9481f"/>
<ellipse cx="978.1" cy="246.2" rx="2.2" ry="1.0" fill="#b9481f"/>
<ellipse cx="956.2" cy="257.1" rx="2.6" ry="1.0" fill="#b9481f"/>
<ellipse cx="910.8" cy="226.2" rx="1.9" ry="1.6" fill="#b9481f"/>
<ellipse cx="914.8" cy="311.1" rx="2.9" ry="1.3" fill="#b9481f" transform="rotate(-20 914.8 311.1)"/>
<ellipse cx="982.2" cy="316.0" rx="2.2" ry="1.0" fill="#b9481f"/>
</g>
<rect x="889.2" y="222.3" width="114.2" height="113.2" fill="none" stroke="#000" stroke-width="2.2"/>
<text x="893.3" y="366.7" textLength="106.5" lengthAdjust="spacingAndGlyphs" font-size="23.3" fill="#000" stroke="#000" stroke-width="0.3">Osteopenia</text>
<clipPath id="bpc"><rect x="889.3" y="376.5" width="114.0" height="113.0"/></clipPath>
<g clip-path="url(#bpc)" filter="url(#soft)">
<rect x="889.3" y="376.5" width="114.0" height="113.0" fill="#fdf0ea"/>
<clipPath id="bp0"><ellipse cx="902.0" cy="383.0" rx="12.9" ry="7.4"/></clipPath>
<ellipse cx="902.0" cy="383.0" rx="14.3" ry="8.8" fill="#fdf0ea"/>
<g clip-path="url(#bp0)">
<ellipse cx="902.0" cy="383.0" rx="12.9" ry="7.4" fill="url(#salmG2)"/>
<path d="M897.3 368.6 Q904.1 382.7 913.6 395.0" stroke="#fdeee8" stroke-width="1.71" fill="none"/>
<path d="M905.3 367.8 Q908.3 383.7 901.8 398.5" stroke="#fdeee8" stroke-width="2.31" fill="none"/>
<ellipse cx="902.0" cy="383.0" rx="12.9" ry="7.4" fill="none" stroke="#ee9b7c" stroke-width="1.4" stroke-opacity="0.7"/>
</g>
<clipPath id="bp1"><ellipse cx="916.4" cy="391.5" rx="8.3" ry="6.5"/></clipPath>
<ellipse cx="916.4" cy="391.5" rx="9.7" ry="7.9" fill="#fdf0ea"/>
<g clip-path="url(#bp1)">
<ellipse cx="916.4" cy="391.5" rx="8.3" ry="6.5" fill="url(#salmG2)"/>
<path d="M906.6 390.0 Q916.9 388.2 926.4 392.3" stroke="#fdeee8" stroke-width="1.74" fill="none"/>
<ellipse cx="916.4" cy="391.5" rx="8.3" ry="6.5" fill="none" stroke="#ee9b7c" stroke-width="1.4" stroke-opacity="0.7"/>
</g>
<clipPath id="bp2"><ellipse cx="934.1" cy="380.3" rx="5.2" ry="3.7"/></clipPath>
<ellipse cx="934.1" cy="380.3" rx="6.6" ry="5.1" fill="#fdf0ea"/>
<g clip-path="url(#bp2)">
<ellipse cx="934.1" cy="380.3" rx="5.2" ry="3.7" fill="url(#salmG2)"/>
<path d="M931.1 374.5 Q934.2 380.2 934.1 386.6" stroke="#fdeee8" stroke-width="1.92" fill="none"/>
<ellipse cx="934.1" cy="380.3" rx="5.2" ry="3.7" fill="none" stroke="#ee9b7c" stroke-width="1.4" stroke-opacity="0.7"/>
</g>
<clipPath id="bp3"><ellipse cx="953.3" cy="389.1" rx="15.1" ry="12.2" transform="rotate(-15 953.3 389.1)"/></clipPath>
<ellipse cx="953.3" cy="389.1" rx="16.6" ry="13.6" fill="#fdf0ea" transform="rotate(-15 953.3 389.1)"/>
<g clip-path="url(#bp3)">
<ellipse cx="953.3" cy="389.1" rx="15.1" ry="12.2" fill="url(#salmG2)" transform="rotate(-15 953.3 389.1)"/>
<path d="M954.8 370.5 Q946.8 386.8 940.6 403.9" stroke="#fdeee8" stroke-width="2.16" fill="none"/>
<path d="M971.9 392.7 Q953.4 389.5 935.7 395.4" stroke="#fdeee8" stroke-width="2.01" fill="none"/>
<path d="M939.3 377.4 Q956.6 383.2 971.9 393.3" stroke="#fdeee8" stroke-width="2.74" fill="none"/>
<ellipse cx="953.3" cy="389.1" rx="15.1" ry="12.2" fill="none" transform="rotate(-15 953.3 389.1)" stroke="#ee9b7c" stroke-width="1.4" stroke-opacity="0.7"/>
</g>
<clipPath id="bp4"><ellipse cx="982.2" cy="380.3" rx="9.6" ry="4.8"/></clipPath>
<ellipse cx="982.2" cy="380.3" rx="11.0" ry="6.2" fill="#fdf0ea"/>
<g clip-path="url(#bp4)">
<ellipse cx="982.2" cy="380.3" rx="9.6" ry="4.8" fill="url(#salmG2)"/>
<path d="M972.1 374.4 Q981.2 381.6 991.5 386.8" stroke="#fdeee8" stroke-width="2.12" fill="none"/>
<ellipse cx="982.2" cy="380.3" rx="9.6" ry="4.8" fill="none" stroke="#ee9b7c" stroke-width="1.4" stroke-opacity="0.7"/>
</g>
<clipPath id="bp5"><ellipse cx="995.0" cy="388.3" rx="9.2" ry="6.5"/></clipPath>
<ellipse cx="995.0" cy="388.3" rx="10.7" ry="7.9" fill="#fdf0ea"/>
<g clip-path="url(#bp5)">
<ellipse cx="995.0" cy="388.3" rx="9.2" ry="6.5" fill="url(#salmG2)"/>
<path d="M1000.2 377.8 Q1001.9 389.2 996.9 399.6" stroke="#fdeee8" stroke-width="1.89" fill="none"/>
<path d="M1001.4 379.2 Q996.7 389.3 989.5 397.9" stroke="#fdeee8" stroke-width="2.42" fill="none"/>
<ellipse cx="995.0" cy="388.3" rx="9.2" ry="6.5" fill="none" stroke="#ee9b7c" stroke-width="1.4" stroke-opacity="0.7"/>
</g>
<clipPath id="bp6"><ellipse cx="898.8" cy="401.9" rx="8.3" ry="7.4"/></clipPath>
<ellipse cx="898.8" cy="401.9" rx="9.7" ry="8.8" fill="#fdf0ea"/>
<g clip-path="url(#bp6)">
<ellipse cx="898.8" cy="401.9" rx="8.3" ry="7.4" fill="url(#salmG2)"/>
<path d="M898.8 391.9 Q898.3 402.1 901.8 411.6" stroke="#fdeee8" stroke-width="2.57" fill="none"/>
<path d="M891.3 395.4 Q898.3 402.4 905.6 409.2" stroke="#fdeee8" stroke-width="2.82" fill="none"/>
<ellipse cx="898.8" cy="401.9" rx="8.3" ry="7.4" fill="none" stroke="#ee9b7c" stroke-width="1.4" stroke-opacity="0.7"/>
</g>
<clipPath id="bp7"><ellipse cx="913.2" cy="406.0" rx="6.6" ry="6.6"/></clipPath>
<ellipse cx="913.2" cy="406.0" rx="8.1" ry="8.1" fill="#fdf0ea"/>
<g clip-path="url(#bp7)">
<ellipse cx="913.2" cy="406.0" rx="6.6" ry="6.6" fill="url(#salmG2)"/>
<path d="M919.4 400.8 Q912.2 405.0 908.9 412.8" stroke="#fdeee8" stroke-width="1.77" fill="none"/>
<ellipse cx="913.2" cy="406.0" rx="6.6" ry="6.6" fill="none" stroke="#ee9b7c" stroke-width="1.4" stroke-opacity="0.7"/>
</g>
<clipPath id="bp8"><ellipse cx="930.9" cy="414.0" rx="9.6" ry="10.3"/></clipPath>
<ellipse cx="930.9" cy="414.0" rx="11.0" ry="11.8" fill="#fdf0ea"/>
<g clip-path="url(#bp8)">
<ellipse cx="930.9" cy="414.0" rx="9.6" ry="10.3" fill="url(#salmG2)"/>
<path d="M925.6 402.6 Q931.6 413.8 931.9 426.6" stroke="#fdeee8" stroke-width="2.28" fill="none"/>
<path d="M918.4 414.0 Q930.4 417.8 943.0 417.0" stroke="#fdeee8" stroke-width="2.40" fill="none"/>
<ellipse cx="930.9" cy="414.0" rx="9.6" ry="10.3" fill="none" stroke="#ee9b7c" stroke-width="1.4" stroke-opacity="0.7"/>
</g>
<clipPath id="bp9"><ellipse cx="950.9" cy="407.6" rx="11.4" ry="9.2"/></clipPath>
<ellipse cx="950.9" cy="407.6" rx="12.9" ry="10.7" fill="#fdf0ea"/>
<g clip-path="url(#bp9)">
<ellipse cx="950.9" cy="407.6" rx="11.4" ry="9.2" fill="url(#salmG2)"/>
<path d="M964.3 403.8 Q950.9 407.3 939.0 414.2" stroke="#fdeee8" stroke-width="2.43" fill="none"/>
<path d="M954.7 394.4 Q948.2 406.8 947.9 420.9" stroke="#fdeee8" stroke-width="2.91" fill="none"/>
<ellipse cx="950.9" cy="407.6" rx="11.4" ry="9.2" fill="none" stroke="#ee9b7c" stroke-width="1.4" stroke-opacity="0.7"/>
</g>
<clipPath id="bp10"><ellipse cx="974.9" cy="410.0" rx="14.0" ry="12.9"/></clipPath>
<ellipse cx="974.9" cy="410.0" rx="15.4" ry="14.3" fill="#fdf0ea"/>
<g clip-path="url(#bp10)">
<ellipse cx="974.9" cy="410.0" rx="14.0" ry="12.9" fill="url(#salmG2)"/>
<path d="M971.5 393.4 Q978.0 409.7 974.2 426.9" stroke="#fdeee8" stroke-width="2.58" fill="none"/>
<path d="M976.9 392.4 Q966.0 405.7 961.9 422.4" stroke="#fdeee8" stroke-width="2.00" fill="none"/>
<path d="M967.0 394.9 Q978.2 408.7 978.9 426.4" stroke="#fdeee8" stroke-width="2.25" fill="none"/>
<ellipse cx="974.9" cy="410.0" rx="14.0" ry="12.9" fill="none" stroke="#ee9b7c" stroke-width="1.4" stroke-opacity="0.7"/>
</g>
<clipPath id="bp11"><ellipse cx="998.2" cy="408.4" rx="6.5" ry="9.6"/></clipPath>
<ellipse cx="998.2" cy="408.4" rx="7.9" ry="11.0" fill="#fdf0ea"/>
<g clip-path="url(#bp11)">
<ellipse cx="998.2" cy="408.4" rx="6.5" ry="9.6" fill="url(#salmG2)"/>
<path d="M989.4 399.7 Q1001.1 402.4 1009.2 411.3" stroke="#fdeee8" stroke-width="2.67" fill="none"/>
<path d="M988.2 401.8 Q999.1 405.6 1009.3 410.9" stroke="#fdeee8" stroke-width="2.81" fill="none"/>
<ellipse cx="998.2" cy="408.4" rx="6.5" ry="9.6" fill="none" stroke="#ee9b7c" stroke-width="1.4" stroke-opacity="0.7"/>
</g>
<clipPath id="bp12"><ellipse cx="903.6" cy="424.4" rx="14.7" ry="11.1"/></clipPath>
<ellipse cx="903.6" cy="424.4" rx="16.2" ry="12.5" fill="#fdf0ea"/>
<g clip-path="url(#bp12)">
<ellipse cx="903.6" cy="424.4" rx="14.7" ry="11.1" fill="url(#salmG2)"/>
<path d="M886.7 419.5 Q903.6 424.5 920.9 428.3" stroke="#fdeee8" stroke-width="2.83" fill="none"/>
<path d="M915.9 411.8 Q902.5 423.6 886.1 430.8" stroke="#fdeee8" stroke-width="2.18" fill="none"/>
<path d="M891.4 410.0 Q893.9 428.5 906.6 442.0" stroke="#fdeee8" stroke-width="1.82" fill="none"/>
<ellipse cx="903.6" cy="424.4" rx="14.7" ry="11.1" fill="none" stroke="#ee9b7c" stroke-width="1.4" stroke-opacity="0.7"/>
</g>
<clipPath id="bp13"><ellipse cx="926.1" cy="440.4" rx="11.1" ry="11.1"/></clipPath>
<ellipse cx="926.1" cy="440.4" rx="12.5" ry="12.5" fill="#fdf0ea"/>
<g clip-path="url(#bp13)">
<ellipse cx="926.1" cy="440.4" rx="11.1" ry="11.1" fill="url(#salmG2)"/>
<path d="M916.2 431.2 Q928.8 436.0 938.8 445.1" stroke="#fdeee8" stroke-width="2.28" fill="none"/>
<path d="M932.0 428.3 Q932.8 442.3 924.7 453.8" stroke="#fdeee8" stroke-width="2.19" fill="none"/>
<ellipse cx="926.1" cy="440.4" rx="11.1" ry="11.1" fill="none" stroke="#ee9b7c" stroke-width="1.4" stroke-opacity="0.7"/>
</g>
<clipPath id="bp14"><ellipse cx="944.5" cy="448.1" rx="6.6" ry="4.8"/></clipPath>
<ellipse cx="944.5" cy="448.1" rx="8.1" ry="6.2" fill="#fdf0ea"/>
<g clip-path="url(#bp14)">
<ellipse cx="944.5" cy="448.1" rx="6.6" ry="4.8" fill="url(#salmG2)"/>
<path d="M941.0 440.9 Q941.8 449.2 947.3 455.5" stroke="#fdeee8" stroke-width="2.56" fill="none"/>
<ellipse cx="944.5" cy="448.1" rx="6.6" ry="4.8" fill="none" stroke="#ee9b7c" stroke-width="1.4" stroke-opacity="0.7"/>
</g>
<clipPath id="bp15"><ellipse cx="978.9" cy="436.4" rx="10.3" ry="7.4"/></clipPath>
<ellipse cx="978.9" cy="436.4" rx="11.8" ry="8.8" fill="#fdf0ea"/>
<g clip-path="url(#bp15)">
<ellipse cx="978.9" cy="436.4" rx="10.3" ry="7.4" fill="url(#salmG2)"/>
<path d="M978.5 424.0 Q976.3 436.3 977.3 448.7" stroke="#fdeee8" stroke-width="1.68" fill="none"/>
<path d="M989.9 430.8 Q977.1 431.5 966.4 438.5" stroke="#fdeee8" stroke-width="2.71" fill="none"/>
<ellipse cx="978.9" cy="436.4" rx="10.3" ry="7.4" fill="none" stroke="#ee9b7c" stroke-width="1.4" stroke-opacity="0.7"/>
</g>
<clipPath id="bp16"><ellipse cx="996.6" cy="434.8" rx="7.4" ry="9.6"/></clipPath>
<ellipse cx="996.6" cy="434.8" rx="8.8" ry="11.0" fill="#fdf0ea"/>
<g clip-path="url(#bp16)">
<ellipse cx="996.6" cy="434.8" rx="7.4" ry="9.6" fill="url(#salmG2)"/>
<path d="M993.4 423.7 Q1000.2 433.5 1001.0 445.4" stroke="#fdeee8" stroke-width="2.49" fill="none"/>
<path d="M985.9 428.9 Q997.6 428.8 1008.4 433.4" stroke="#fdeee8" stroke-width="1.83" fill="none"/>
<ellipse cx="996.6" cy="434.8" rx="7.4" ry="9.6" fill="none" stroke="#ee9b7c" stroke-width="1.4" stroke-opacity="0.7"/>
</g>
<clipPath id="bp17"><ellipse cx="902.0" cy="453.2" rx="12.9" ry="11.1"/></clipPath>
<ellipse cx="902.0" cy="453.2" rx="14.3" ry="12.5" fill="#fdf0ea"/>
<g clip-path="url(#bp17)">
<ellipse cx="902.0" cy="453.2" rx="12.9" ry="11.1" fill="url(#salmG2)"/>
<path d="M899.1 437.5 Q911.3 448.5 914.0 464.7" stroke="#fdeee8" stroke-width="1.82" fill="none"/>
<path d="M887.8 447.1 Q904.1 447.1 917.2 456.8" stroke="#fdeee8" stroke-width="2.82" fill="none"/>
<path d="M911.3 440.0 Q908.4 455.4 900.4 469.0" stroke="#fdeee8" stroke-width="2.09" fill="none"/>
<ellipse cx="902.0" cy="453.2" rx="12.9" ry="11.1" fill="none" stroke="#ee9b7c" stroke-width="1.4" stroke-opacity="0.7"/>
</g>
<clipPath id="bp18"><ellipse cx="911.6" cy="465.2" rx="9.6" ry="9.6"/></clipPath>
<ellipse cx="911.6" cy="465.2" rx="11.0" ry="11.0" fill="#fdf0ea"/>
<g clip-path="url(#bp18)">
<ellipse cx="911.6" cy="465.2" rx="9.6" ry="9.6" fill="url(#salmG2)"/>
<path d="M909.8 453.4 Q912.0 465.1 919.4 474.4" stroke="#fdeee8" stroke-width="2.98" fill="none"/>
<path d="M910.6 453.8 Q915.1 464.9 913.0 476.7" stroke="#fdeee8" stroke-width="1.75" fill="none"/>
<ellipse cx="911.6" cy="465.2" rx="9.6" ry="9.6" fill="none" stroke="#ee9b7c" stroke-width="1.4" stroke-opacity="0.7"/>
</g>
<clipPath id="bp19"><ellipse cx="929.3" cy="463.6" rx="7.4" ry="9.2"/></clipPath>
<ellipse cx="929.3" cy="463.6" rx="8.8" ry="10.7" fill="#fdf0ea"/>
<g clip-path="url(#bp19)">
<ellipse cx="929.3" cy="463.6" rx="7.4" ry="9.2" fill="url(#salmG2)"/>
<path d="M925.4 453.0 Q928.4 463.9 935.9 472.5" stroke="#fdeee8" stroke-width="1.83" fill="none"/>
<path d="M918.0 466.6 Q929.0 467.6 940.1 468.2" stroke="#fdeee8" stroke-width="1.81" fill="none"/>
<ellipse cx="929.3" cy="463.6" rx="7.4" ry="9.2" fill="none" stroke="#ee9b7c" stroke-width="1.4" stroke-opacity="0.7"/>
</g>
<clipPath id="bp20"><ellipse cx="958.1" cy="472.5" rx="10.3" ry="11.1"/></clipPath>
<ellipse cx="958.1" cy="472.5" rx="11.8" ry="12.5" fill="#fdf0ea"/>
<g clip-path="url(#bp20)">
<ellipse cx="958.1" cy="472.5" rx="10.3" ry="11.1" fill="url(#salmG2)"/>
<path d="M964.3 459.9 Q962.2 473.1 960.7 486.2" stroke="#fdeee8" stroke-width="2.96" fill="none"/>
<path d="M969.4 465.2 Q958.3 472.7 945.3 476.2" stroke="#fdeee8" stroke-width="2.12" fill="none"/>
<ellipse cx="958.1" cy="472.5" rx="10.3" ry="11.1" fill="none" stroke="#ee9b7c" stroke-width="1.4" stroke-opacity="0.7"/>
</g>
<clipPath id="bp21"><ellipse cx="980.6" cy="464.4" rx="8.5" ry="9.6"/></clipPath>
<ellipse cx="980.6" cy="464.4" rx="9.9" ry="11.0" fill="#fdf0ea"/>
<g clip-path="url(#bp21)">
<ellipse cx="980.6" cy="464.4" rx="8.5" ry="9.6" fill="url(#salmG2)"/>
<path d="M969.6 460.7 Q979.4 466.7 989.5 472.2" stroke="#fdeee8" stroke-width="2.69" fill="none"/>
<path d="M976.5 453.3 Q980.2 464.5 988.2 473.1" stroke="#fdeee8" stroke-width="2.97" fill="none"/>
<ellipse cx="980.6" cy="464.4" rx="8.5" ry="9.6" fill="none" stroke="#ee9b7c" stroke-width="1.4" stroke-opacity="0.7"/>
</g>
<clipPath id="bp22"><ellipse cx="899.6" cy="479.7" rx="8.5" ry="5.5"/></clipPath>
<ellipse cx="899.6" cy="479.7" rx="9.9" ry="7.0" fill="#fdf0ea"/>
<g clip-path="url(#bp22)">
<ellipse cx="899.6" cy="479.7" rx="8.5" ry="5.5" fill="url(#salmG2)"/>
<path d="M907.7 473.8 Q897.6 476.3 889.5 482.9" stroke="#fdeee8" stroke-width="2.63" fill="none"/>
<ellipse cx="899.6" cy="479.7" rx="8.5" ry="5.5" fill="none" stroke="#ee9b7c" stroke-width="1.4" stroke-opacity="0.7"/>
</g>
<clipPath id="bp23"><ellipse cx="934.1" cy="479.2" rx="8.5" ry="5.5"/></clipPath>
<ellipse cx="934.1" cy="479.2" rx="9.9" ry="7.0" fill="#fdf0ea"/>
<g clip-path="url(#bp23)">
<ellipse cx="934.1" cy="479.2" rx="8.5" ry="5.5" fill="url(#salmG2)"/>
<path d="M926.3 472.6 Q934.7 478.5 941.7 485.9" stroke="#fdeee8" stroke-width="1.65" fill="none"/>
<ellipse cx="934.1" cy="479.2" rx="8.5" ry="5.5" fill="none" stroke="#ee9b7c" stroke-width="1.4" stroke-opacity="0.7"/>
</g>
<clipPath id="bp24"><ellipse cx="988.6" cy="480.5" rx="10.3" ry="6.6"/></clipPath>
<ellipse cx="988.6" cy="480.5" rx="11.8" ry="8.1" fill="#fdf0ea"/>
<g clip-path="url(#bp24)">
<ellipse cx="988.6" cy="480.5" rx="10.3" ry="6.6" fill="url(#salmG2)"/>
<path d="M976.4 478.1 Q988.9 477.1 1001.1 480.2" stroke="#fdeee8" stroke-width="2.57" fill="none"/>
<path d="M1000.9 479.1 Q988.1 477.0 976.4 482.5" stroke="#fdeee8" stroke-width="2.97" fill="none"/>
<ellipse cx="988.6" cy="480.5" rx="10.3" ry="6.6" fill="none" stroke="#ee9b7c" stroke-width="1.4" stroke-opacity="0.7"/>
</g>
<clipPath id="bp25"><ellipse cx="952.5" cy="430.8" rx="7.4" ry="9.6"/></clipPath>
<ellipse cx="952.5" cy="430.8" rx="8.8" ry="11.0" fill="#fdf0ea"/>
<g clip-path="url(#bp25)">
<ellipse cx="952.5" cy="430.8" rx="7.4" ry="9.6" fill="url(#salmG2)"/>
<path d="M964.0 430.3 Q953.0 434.2 941.2 433.6" stroke="#fdeee8" stroke-width="1.92" fill="none"/>
<path d="M944.3 422.1 Q953.1 429.5 963.0 435.4" stroke="#fdeee8" stroke-width="2.85" fill="none"/>
<ellipse cx="952.5" cy="430.8" rx="7.4" ry="9.6" fill="none" stroke="#ee9b7c" stroke-width="1.4" stroke-opacity="0.7"/>
</g>
<clipPath id="bp26"><ellipse cx="962.9" cy="454.0" rx="11.1" ry="6.5" transform="rotate(-20 962.9 454.0)"/></clipPath>
<ellipse cx="962.9" cy="454.0" rx="12.5" ry="7.9" fill="#fdf0ea" transform="rotate(-20 962.9 454.0)"/>
<g clip-path="url(#bp26)">
<ellipse cx="962.9" cy="454.0" rx="11.1" ry="6.5" fill="url(#salmG2)" transform="rotate(-20 962.9 454.0)"/>
<path d="M974.7 447.8 Q962.3 452.9 951.4 460.5" stroke="#fdeee8" stroke-width="2.71" fill="none"/>
<path d="M949.7 451.4 Q961.5 458.6 975.3 458.4" stroke="#fdeee8" stroke-width="2.69" fill="none"/>
<ellipse cx="962.9" cy="454.0" rx="11.1" ry="6.5" fill="none" transform="rotate(-20 962.9 454.0)" stroke="#ee9b7c" stroke-width="1.4" stroke-opacity="0.7"/>
</g>
<clipPath id="bp27"><ellipse cx="997.4" cy="453.2" rx="6.5" ry="6.5"/></clipPath>
<ellipse cx="997.4" cy="453.2" rx="7.9" ry="7.9" fill="#fdf0ea"/>
<g clip-path="url(#bp27)">
<ellipse cx="997.4" cy="453.2" rx="6.5" ry="6.5" fill="url(#salmG2)"/>
<path d="M1002.9 447.8 Q998.7 454.6 992.0 458.8" stroke="#fdeee8" stroke-width="2.70" fill="none"/>
<ellipse cx="997.4" cy="453.2" rx="6.5" ry="6.5" fill="none" stroke="#ee9b7c" stroke-width="1.4" stroke-opacity="0.7"/>
</g>
<clipPath id="bp28"><ellipse cx="894.0" cy="464.4" rx="4.6" ry="6.6"/></clipPath>
<ellipse cx="894.0" cy="464.4" rx="6.0" ry="8.1" fill="#fdf0ea"/>
<g clip-path="url(#bp28)">
<ellipse cx="894.0" cy="464.4" rx="4.6" ry="6.6" fill="url(#salmG2)"/>
<path d="M888.9 458.5 Q890.7 466.7 896.9 472.2" stroke="#fdeee8" stroke-width="2.16" fill="none"/>
<ellipse cx="894.0" cy="464.4" rx="4.6" ry="6.6" fill="none" stroke="#ee9b7c" stroke-width="1.4" stroke-opacity="0.7"/>
</g>
<clipPath id="bp29"><ellipse cx="942.1" cy="421.2" rx="5.5" ry="4.6"/></clipPath>
<ellipse cx="942.1" cy="421.2" rx="7.0" ry="6.0" fill="#fdf0ea"/>
<g clip-path="url(#bp29)">
<ellipse cx="942.1" cy="421.2" rx="5.5" ry="4.6" fill="url(#salmG2)"/>
<path d="M937.9 415.4 Q939.0 422.1 942.0 428.1" stroke="#fdeee8" stroke-width="1.84" fill="none"/>
<ellipse cx="942.1" cy="421.2" rx="5.5" ry="4.6" fill="none" stroke="#ee9b7c" stroke-width="1.4" stroke-opacity="0.7"/>
</g>
<clipPath id="bp30"><ellipse cx="969.3" cy="426.0" rx="7.4" ry="4.6"/></clipPath>
<ellipse cx="969.3" cy="426.0" rx="8.8" ry="6.0" fill="#fdf0ea"/>
<g clip-path="url(#bp30)">
<ellipse cx="969.3" cy="426.0" rx="7.4" ry="4.6" fill="url(#salmG2)"/>
<path d="M962.1 421.2 Q969.3 427.0 978.4 428.1" stroke="#fdeee8" stroke-width="2.72" fill="none"/>
<ellipse cx="969.3" cy="426.0" rx="7.4" ry="4.6" fill="none" stroke="#ee9b7c" stroke-width="1.4" stroke-opacity="0.7"/>
</g>
<clipPath id="bp31"><ellipse cx="988.6" cy="421.2" rx="6.5" ry="3.7"/></clipPath>
<ellipse cx="988.6" cy="421.2" rx="7.9" ry="5.1" fill="#fdf0ea"/>
<g clip-path="url(#bp31)">
<ellipse cx="988.6" cy="421.2" rx="6.5" ry="3.7" fill="url(#salmG2)"/>
<path d="M980.8 418.7 Q986.6 424.5 994.7 425.6" stroke="#fdeee8" stroke-width="2.52" fill="none"/>
<ellipse cx="988.6" cy="421.2" rx="6.5" ry="3.7" fill="none" stroke="#ee9b7c" stroke-width="1.4" stroke-opacity="0.7"/>
</g>
<ellipse cx="910.0" cy="379.2" rx="3.8" ry="2.3" fill="#b4431c"/>
<ellipse cx="910.8" cy="392.7" rx="1.5" ry="3.5" fill="#b4431c"/>
<ellipse cx="925.7" cy="380.3" rx="4.8" ry="5.4" fill="#b4431c"/>
<ellipse cx="946.1" cy="392.3" rx="4.6" ry="8.1" fill="#b4431c" transform="rotate(-35 946.1 392.3)"/>
<ellipse cx="959.7" cy="389.1" rx="2.7" ry="4.6" fill="#b4431c" transform="rotate(-10 959.7 389.1)"/>
<ellipse cx="965.3" cy="381.9" rx="2.1" ry="3.5" fill="#b4431c"/>
<ellipse cx="988.6" cy="392.3" rx="2.9" ry="1.7" fill="#b4431c" transform="rotate(-20 988.6 392.3)"/>
<ellipse cx="978.9" cy="389.1" rx="2.7" ry="1.9" fill="#b4431c"/>
<ellipse cx="898.0" cy="402.7" rx="2.5" ry="3.5" fill="#b4431c"/>
<ellipse cx="914.8" cy="407.6" rx="3.8" ry="3.8" fill="#b4431c" transform="rotate(-30 914.8 407.6)"/>
<ellipse cx="932.8" cy="417.2" rx="5.8" ry="6.9" fill="#b4431c" transform="rotate(25 932.8 417.2)"/>
<ellipse cx="956.5" cy="410.8" rx="2.7" ry="3.8" fill="#b4431c" transform="rotate(30 956.5 410.8)"/>
<ellipse cx="969.3" cy="410.0" rx="4.2" ry="4.2" fill="#b4431c"/>
<ellipse cx="974.9" cy="417.2" rx="3.3" ry="4.8" fill="#b4431c"/>
<ellipse cx="985.7" cy="406.0" rx="2.1" ry="3.8" fill="#b4431c"/>
<ellipse cx="997.7" cy="411.6" rx="2.7" ry="4.2" fill="#b4431c"/>
<ellipse cx="906.0" cy="430.8" rx="10.0" ry="3.3" fill="#b4431c"/>
<ellipse cx="988.6" cy="419.9" rx="4.2" ry="2.1" fill="#b4431c"/>
<ellipse cx="966.1" cy="423.1" rx="3.8" ry="1.7" fill="#b4431c" transform="rotate(20 966.1 423.1)"/>
<ellipse cx="952.5" cy="430.8" rx="4.2" ry="7.7" fill="#b4431c"/>
<ellipse cx="941.3" cy="433.2" rx="1.7" ry="3.8" fill="#b4431c"/>
<ellipse cx="928.5" cy="443.6" rx="6.2" ry="5.2" fill="#b4431c"/>
<ellipse cx="946.1" cy="438.8" rx="3.8" ry="1.3" fill="#b4431c"/>
<ellipse cx="944.5" cy="449.7" rx="4.2" ry="2.7" fill="#b4431c"/>
<ellipse cx="981.8" cy="435.9" rx="4.0" ry="4.8" fill="#b4431c"/>
<ellipse cx="995.3" cy="434.0" rx="4.6" ry="6.7" fill="#b4431c" transform="rotate(10 995.3 434.0)"/>
<ellipse cx="988.6" cy="443.6" rx="3.1" ry="3.8" fill="#b4431c"/>
<ellipse cx="962.9" cy="456.4" rx="8.8" ry="3.5" fill="#b4431c" transform="rotate(-22 962.9 456.4)"/>
<ellipse cx="998.2" cy="453.2" rx="4.8" ry="5.4" fill="#b4431c"/>
<ellipse cx="897.2" cy="454.8" rx="3.3" ry="3.3" fill="#b4431c"/>
<ellipse cx="911.6" cy="456.4" rx="4.2" ry="2.7" fill="#b4431c"/>
<ellipse cx="914.8" cy="463.6" rx="3.7" ry="5.8" fill="#b4431c" transform="rotate(-15 914.8 463.6)"/>
<ellipse cx="908.4" cy="470.9" rx="4.8" ry="4.0" fill="#b4431c"/>
<ellipse cx="894.0" cy="465.2" rx="2.7" ry="4.8" fill="#b4431c"/>
<ellipse cx="925.3" cy="460.4" rx="2.9" ry="2.3" fill="#b4431c"/>
<ellipse cx="925.3" cy="468.5" rx="3.5" ry="2.7" fill="#b4431c"/>
<ellipse cx="937.3" cy="453.2" rx="3.8" ry="1.9" fill="#b4431c" transform="rotate(25 937.3 453.2)"/>
<ellipse cx="961.3" cy="477.6" rx="5.0" ry="2.1" fill="#b4431c" transform="rotate(-15 961.3 477.6)"/>
<ellipse cx="981.4" cy="463.6" rx="4.2" ry="6.9" fill="#b4431c" transform="rotate(10 981.4 463.6)"/>
<ellipse cx="990.2" cy="465.7" rx="2.1" ry="4.8" fill="#b4431c"/>
<ellipse cx="899.6" cy="479.7" rx="4.2" ry="3.8" fill="#b4431c"/>
<ellipse cx="943.7" cy="478.1" rx="4.2" ry="3.3" fill="#b4431c" transform="rotate(35 943.7 478.1)"/>
<ellipse cx="922.5" cy="483.4" rx="2.9" ry="2.3" fill="#b4431c"/>
<ellipse cx="994.7" cy="479.7" rx="1.9" ry="3.5" fill="#b4431c"/>
<ellipse cx="972.5" cy="478.5" rx="2.3" ry="2.3" fill="#b4431c"/>
<ellipse cx="975.7" cy="487.2" rx="4.8" ry="1.3" fill="#b4431c"/>
<ellipse cx="934.1" cy="487.5" rx="4.8" ry="1.3" fill="#b4431c"/>
<ellipse cx="1001.1" cy="402.7" rx="1.5" ry="3.5" fill="#b4431c"/>
<ellipse cx="892.4" cy="393.9" rx="1.5" ry="2.7" fill="#b4431c"/>
</g>
<rect x="889.2" y="376.4" width="114.2" height="113.2" fill="none" stroke="#000" stroke-width="2.2"/>
<text x="884.8" y="520.2" textLength="123" lengthAdjust="spacingAndGlyphs" font-size="23.3" fill="#000" stroke="#000" stroke-width="0.3">Osteoporosis</text>
<clipPath id="boc"><rect x="889.3" y="530.3" width="114.0" height="113.0"/></clipPath>
<g clip-path="url(#boc)" filter="url(#soft)">
<rect x="889.3" y="530.3" width="114.0" height="113.0" fill="#fdf0ea"/>
<clipPath id="bo0"><ellipse cx="892.4" cy="537.3" rx="4.0" ry="8.5"/></clipPath>
<ellipse cx="892.4" cy="537.3" rx="5.1" ry="9.7" fill="#fdf0ea"/>
<g clip-path="url(#bo0)">
<ellipse cx="892.4" cy="537.3" rx="4.0" ry="8.5" fill="#f9bba2"/>
<ellipse cx="892.4" cy="537.3" rx="2.4" ry="6.6" fill="#b4431c"/>
</g>
<clipPath id="bo1"><ellipse cx="905.2" cy="534.1" rx="9.0" ry="5.7"/></clipPath>
<ellipse cx="905.2" cy="534.1" rx="10.2" ry="6.8" fill="#fdf0ea"/>
<g clip-path="url(#bo1)">
<ellipse cx="905.2" cy="534.1" rx="9.0" ry="5.7" fill="#f9bba2"/>
<ellipse cx="905.2" cy="534.1" rx="7.1" ry="3.8" fill="#b4431c"/>
<path d="M903.1 523.4 Q901.6 534.6 906.4 544.9" stroke="#f9bba2" stroke-width="2.25" fill="none"/>
</g>
<clipPath id="bo2"><ellipse cx="930.1" cy="534.1" rx="11.1" ry="5.7" transform="rotate(5 930.1 534.1)"/></clipPath>
<ellipse cx="930.1" cy="534.1" rx="12.2" ry="6.8" fill="#fdf0ea" transform="rotate(5 930.1 534.1)"/>
<g clip-path="url(#bo2)">
<ellipse cx="930.1" cy="534.1" rx="11.1" ry="5.7" fill="#f9bba2" transform="rotate(5 930.1 534.1)"/>
<ellipse cx="930.1" cy="534.1" rx="9.1" ry="3.8" fill="#b4431c" transform="rotate(5 930.1 534.1)"/>
<path d="M929.5 520.8 Q932.1 534.2 928.9 547.4" stroke="#f9bba2" stroke-width="2.32" fill="none"/>
<path d="M932.7 521.3 Q930.9 535.0 922.1 545.7" stroke="#f9bba2" stroke-width="2.03" fill="none"/>
</g>
<clipPath id="bo3"><ellipse cx="911.6" cy="546.9" rx="18.6" ry="7.7" transform="rotate(-5 911.6 546.9)"/></clipPath>
<ellipse cx="911.6" cy="546.9" rx="19.8" ry="8.8" fill="#fdf0ea" transform="rotate(-5 911.6 546.9)"/>
<g clip-path="url(#bo3)">
<ellipse cx="911.6" cy="546.9" rx="18.6" ry="7.7" fill="#f9bba2" transform="rotate(-5 911.6 546.9)"/>
<ellipse cx="911.6" cy="546.9" rx="16.7" ry="5.8" fill="#b4431c" transform="rotate(-5 911.6 546.9)"/>
<path d="M888.7 542.7 Q909.3 551.9 931.6 555.3" stroke="#f9bba2" stroke-width="1.67" fill="none"/>
<path d="M933.5 542.5 Q911.1 541.3 888.9 545.0" stroke="#f9bba2" stroke-width="2.46" fill="none"/>
<path d="M895.8 533.4 Q915.3 544.4 935.2 554.6" stroke="#f9bba2" stroke-width="1.69" fill="none"/>
</g>
<clipPath id="bo4"><ellipse cx="960.5" cy="543.7" rx="21.2" ry="11.9" transform="rotate(-12 960.5 543.7)"/></clipPath>
<ellipse cx="960.5" cy="543.7" rx="22.3" ry="13.0" fill="#fdf0ea" transform="rotate(-12 960.5 543.7)"/>
<g clip-path="url(#bo4)">
<ellipse cx="960.5" cy="543.7" rx="21.2" ry="11.9" fill="#f9bba2" transform="rotate(-12 960.5 543.7)"/>
<ellipse cx="960.5" cy="543.7" rx="19.2" ry="10.0" fill="#b4431c" transform="rotate(-12 960.5 543.7)"/>
<path d="M942.3 527.2 Q968.0 534.5 984.3 555.7" stroke="#f9bba2" stroke-width="2.25" fill="none"/>
<path d="M949.4 519.5 Q953.8 544.5 958.8 569.4" stroke="#f9bba2" stroke-width="2.49" fill="none"/>
<path d="M957.4 518.3 Q958.2 543.7 957.4 569.1" stroke="#f9bba2" stroke-width="1.99" fill="none"/>
<path d="M985.8 538.2 Q960.4 532.4 935.1 538.6" stroke="#f9bba2" stroke-width="2.59" fill="none"/>
</g>
<clipPath id="bo5"><ellipse cx="980.6" cy="532.5" rx="8.5" ry="5.2"/></clipPath>
<ellipse cx="980.6" cy="532.5" rx="9.7" ry="6.3" fill="#fdf0ea"/>
<g clip-path="url(#bo5)">
<ellipse cx="980.6" cy="532.5" rx="8.5" ry="5.2" fill="#f9bba2"/>
<ellipse cx="980.6" cy="532.5" rx="6.6" ry="3.2" fill="#b4431c"/>
<path d="M976.7 523.3 Q983.6 531.0 987.9 540.4" stroke="#f9bba2" stroke-width="1.71" fill="none"/>
</g>
<clipPath id="bo6"><ellipse cx="998.2" cy="532.5" rx="5.2" ry="3.0"/></clipPath>
<ellipse cx="998.2" cy="532.5" rx="6.3" ry="4.1" fill="#fdf0ea"/>
<g clip-path="url(#bo6)">
<ellipse cx="998.2" cy="532.5" rx="5.2" ry="3.0" fill="#f9bba2"/>
<ellipse cx="998.2" cy="532.5" rx="3.2" ry="1.8" fill="#b4431c"/>
</g>
<clipPath id="bo7"><ellipse cx="995.0" cy="547.7" rx="10.2" ry="11.9" transform="rotate(-25 995.0 547.7)"/></clipPath>
<ellipse cx="995.0" cy="547.7" rx="11.3" ry="13.0" fill="#fdf0ea" transform="rotate(-25 995.0 547.7)"/>
<g clip-path="url(#bo7)">
<ellipse cx="995.0" cy="547.7" rx="10.2" ry="11.9" fill="#f9bba2" transform="rotate(-25 995.0 547.7)"/>
<ellipse cx="995.0" cy="547.7" rx="8.3" ry="10.0" fill="#b4431c" transform="rotate(-25 995.0 547.7)"/>
<path d="M1006.2 539.0 Q993.3 546.0 985.0 558.1" stroke="#f9bba2" stroke-width="2.14" fill="none"/>
<path d="M1008.7 542.2 Q995.2 549.0 980.4 545.9" stroke="#f9bba2" stroke-width="1.90" fill="none"/>
</g>
<clipPath id="bo8"><ellipse cx="893.2" cy="556.5" rx="4.7" ry="6.9"/></clipPath>
<ellipse cx="893.2" cy="556.5" rx="5.8" ry="8.0" fill="#fdf0ea"/>
<g clip-path="url(#bo8)">
<ellipse cx="893.2" cy="556.5" rx="4.7" ry="6.9" fill="#f9bba2"/>
<ellipse cx="893.2" cy="556.5" rx="2.8" ry="4.9" fill="#b4431c"/>
</g>
<clipPath id="bo9"><ellipse cx="893.2" cy="565.4" rx="3.0" ry="5.2"/></clipPath>
<ellipse cx="893.2" cy="565.4" rx="4.1" ry="6.3" fill="#fdf0ea"/>
<g clip-path="url(#bo9)">
<ellipse cx="893.2" cy="565.4" rx="3.0" ry="5.2" fill="#f9bba2"/>
<ellipse cx="893.2" cy="565.4" rx="1.8" ry="3.2" fill="#b4431c"/>
</g>
<clipPath id="bo10"><ellipse cx="893.7" cy="574.2" rx="4.7" ry="4.0"/></clipPath>
<ellipse cx="893.7" cy="574.2" rx="5.8" ry="5.1" fill="#fdf0ea"/>
<g clip-path="url(#bo10)">
<ellipse cx="893.7" cy="574.2" rx="4.7" ry="4.0" fill="#f9bba2"/>
<ellipse cx="893.7" cy="574.2" rx="2.8" ry="2.4" fill="#b4431c"/>
</g>
<clipPath id="bo11"><ellipse cx="909.2" cy="566.2" rx="11.9" ry="13.6"/></clipPath>
<ellipse cx="909.2" cy="566.2" rx="13.0" ry="14.7" fill="#fdf0ea"/>
<g clip-path="url(#bo11)">
<ellipse cx="909.2" cy="566.2" rx="11.9" ry="13.6" fill="#f9bba2"/>
<ellipse cx="909.2" cy="566.2" rx="10.0" ry="11.7" fill="#b4431c"/>
<path d="M925.0 562.0 Q907.8 561.3 893.7 571.0" stroke="#f9bba2" stroke-width="2.16" fill="none"/>
<path d="M893.1 564.0 Q908.2 570.8 924.8 571.4" stroke="#f9bba2" stroke-width="1.98" fill="none"/>
<path d="M894.0 559.8 Q908.3 569.3 925.4 568.6" stroke="#f9bba2" stroke-width="2.66" fill="none"/>
<path d="M895.0 557.4 Q911.9 559.0 925.4 569.2" stroke="#f9bba2" stroke-width="1.69" fill="none"/>
</g>
<clipPath id="bo12"><ellipse cx="947.7" cy="559.8" rx="13.1" ry="8.5" transform="rotate(25 947.7 559.8)"/></clipPath>
<ellipse cx="947.7" cy="559.8" rx="14.2" ry="9.7" fill="#fdf0ea" transform="rotate(25 947.7 559.8)"/>
<g clip-path="url(#bo12)">
<ellipse cx="947.7" cy="559.8" rx="13.1" ry="8.5" fill="#f9bba2" transform="rotate(25 947.7 559.8)"/>
<ellipse cx="947.7" cy="559.8" rx="11.2" ry="6.6" fill="#b4431c" transform="rotate(25 947.7 559.8)"/>
<path d="M962.6 552.4 Q949.6 561.2 937.3 571.1" stroke="#f9bba2" stroke-width="2.23" fill="none"/>
<path d="M933.2 552.4 Q948.4 557.9 959.1 570.1" stroke="#f9bba2" stroke-width="2.50" fill="none"/>
<path d="M933.4 553.6 Q949.2 556.2 962.7 564.8" stroke="#f9bba2" stroke-width="1.98" fill="none"/>
<path d="M963.0 556.0 Q947.6 559.6 931.7 558.9" stroke="#f9bba2" stroke-width="2.83" fill="none"/>
</g>
<clipPath id="bo13"><ellipse cx="934.1" cy="570.2" rx="12.7" ry="11.1"/></clipPath>
<ellipse cx="934.1" cy="570.2" rx="13.9" ry="12.2" fill="#fdf0ea"/>
<g clip-path="url(#bo13)">
<ellipse cx="934.1" cy="570.2" rx="12.7" ry="11.1" fill="#f9bba2"/>
<ellipse cx="934.1" cy="570.2" rx="10.8" ry="9.1" fill="#b4431c"/>
<path d="M922.8 559.9 Q932.5 572.3 946.9 578.7" stroke="#f9bba2" stroke-width="2.50" fill="none"/>
<path d="M917.8 570.1 Q933.3 571.9 946.9 579.5" stroke="#f9bba2" stroke-width="1.97" fill="none"/>
<path d="M946.9 561.4 Q936.8 573.1 923.8 581.5" stroke="#f9bba2" stroke-width="1.71" fill="none"/>
</g>
<clipPath id="bo14"><ellipse cx="982.2" cy="563.4" rx="20.3" ry="14.4"/></clipPath>
<ellipse cx="982.2" cy="563.4" rx="21.4" ry="15.5" fill="#fdf0ea"/>
<g clip-path="url(#bo14)">
<ellipse cx="982.2" cy="563.4" rx="20.3" ry="14.4" fill="#f9bba2"/>
<ellipse cx="982.2" cy="563.4" rx="18.4" ry="12.5" fill="#b4431c"/>
<path d="M958.3 557.7 Q983.0 560.3 1005.1 571.3" stroke="#f9bba2" stroke-width="2.44" fill="none"/>
<path d="M973.4 540.8 Q975.7 566.3 992.5 585.6" stroke="#f9bba2" stroke-width="2.28" fill="none"/>
<path d="M981.3 538.6 Q980.9 563.6 970.0 586.0" stroke="#f9bba2" stroke-width="1.82" fill="none"/>
<path d="M1003.9 552.6 Q981.7 563.6 957.1 566.4" stroke="#f9bba2" stroke-width="1.87" fill="none"/>
</g>
<clipPath id="bo15"><ellipse cx="959.7" cy="583.0" rx="15.3" ry="11.9"/></clipPath>
<ellipse cx="959.7" cy="583.0" rx="16.4" ry="13.0" fill="#fdf0ea"/>
<g clip-path="url(#bo15)">
<ellipse cx="959.7" cy="583.0" rx="15.3" ry="11.9" fill="#f9bba2"/>
<ellipse cx="959.7" cy="583.0" rx="13.3" ry="10.0" fill="#b4431c"/>
<path d="M967.8 566.4 Q958.1 582.4 942.8 593.1" stroke="#f9bba2" stroke-width="2.92" fill="none"/>
<path d="M976.3 575.3 Q959.6 582.9 942.1 588.6" stroke="#f9bba2" stroke-width="1.75" fill="none"/>
<path d="M940.8 585.7 Q959.4 584.6 977.1 590.1" stroke="#f9bba2" stroke-width="2.58" fill="none"/>
<path d="M943.8 572.2 Q955.6 586.2 969.2 598.6" stroke="#f9bba2" stroke-width="2.01" fill="none"/>
<path d="M942.5 575.4 Q961.0 580.3 973.7 594.6" stroke="#f9bba2" stroke-width="1.93" fill="none"/>
</g>
<clipPath id="bo16"><ellipse cx="997.4" cy="587.0" rx="8.5" ry="12.7"/></clipPath>
<ellipse cx="997.4" cy="587.0" rx="9.7" ry="13.9" fill="#fdf0ea"/>
<g clip-path="url(#bo16)">
<ellipse cx="997.4" cy="587.0" rx="8.5" ry="12.7" fill="#f9bba2"/>
<ellipse cx="997.4" cy="587.0" rx="6.6" ry="10.8" fill="#b4431c"/>
<path d="M997.6 571.2 Q993.5 586.0 991.9 601.3" stroke="#f9bba2" stroke-width="2.00" fill="none"/>
</g>
<clipPath id="bo17"><ellipse cx="907.6" cy="590.2" rx="19.5" ry="12.4" transform="rotate(8 907.6 590.2)"/></clipPath>
<ellipse cx="907.6" cy="590.2" rx="20.6" ry="13.5" fill="#fdf0ea" transform="rotate(8 907.6 590.2)"/>
<g clip-path="url(#bo17)">
<ellipse cx="907.6" cy="590.2" rx="19.5" ry="12.4" fill="#f9bba2" transform="rotate(8 907.6 590.2)"/>
<ellipse cx="907.6" cy="590.2" rx="17.5" ry="10.5" fill="#b4431c" transform="rotate(8 907.6 590.2)"/>
<path d="M931.5 587.4 Q911.0 601.0 886.4 599.4" stroke="#f9bba2" stroke-width="1.98" fill="none"/>
<path d="M911.3 566.3 Q920.4 588.5 919.2 612.4" stroke="#f9bba2" stroke-width="2.12" fill="none"/>
</g>
<clipPath id="bo18"><ellipse cx="932.2" cy="595.0" rx="11.1" ry="8.5" transform="rotate(-25 932.2 595.0)"/></clipPath>
<ellipse cx="932.2" cy="595.0" rx="12.2" ry="9.7" fill="#fdf0ea" transform="rotate(-25 932.2 595.0)"/>
<g clip-path="url(#bo18)">
<ellipse cx="932.2" cy="595.0" rx="11.1" ry="8.5" fill="#f9bba2" transform="rotate(-25 932.2 595.0)"/>
<ellipse cx="932.2" cy="595.0" rx="9.1" ry="6.6" fill="#b4431c" transform="rotate(-25 932.2 595.0)"/>
<path d="M938.7 582.7 Q937.0 595.9 932.7 608.6" stroke="#f9bba2" stroke-width="2.84" fill="none"/>
</g>
<clipPath id="bo19"><ellipse cx="948.5" cy="594.5" rx="3.5" ry="3.5"/></clipPath>
<ellipse cx="948.5" cy="594.5" rx="4.6" ry="4.6" fill="#fdf0ea"/>
<g clip-path="url(#bo19)">
<ellipse cx="948.5" cy="594.5" rx="3.5" ry="3.5" fill="#f9bba2"/>
<ellipse cx="948.5" cy="594.5" rx="2.1" ry="2.1" fill="#b4431c"/>
</g>
<clipPath id="bo20"><ellipse cx="982.2" cy="594.2" rx="8.5" ry="10.7" transform="rotate(-30 982.2 594.2)"/></clipPath>
<ellipse cx="982.2" cy="594.2" rx="9.7" ry="11.8" fill="#fdf0ea" transform="rotate(-30 982.2 594.2)"/>
<g clip-path="url(#bo20)">
<ellipse cx="982.2" cy="594.2" rx="8.5" ry="10.7" fill="#f9bba2" transform="rotate(-30 982.2 594.2)"/>
<ellipse cx="982.2" cy="594.2" rx="6.6" ry="8.8" fill="#b4431c" transform="rotate(-30 982.2 594.2)"/>
<path d="M994.9 591.9 Q982.0 591.0 969.2 593.5" stroke="#f9bba2" stroke-width="2.42" fill="none"/>
<path d="M972.0 584.7 Q985.5 586.2 995.3 595.6" stroke="#f9bba2" stroke-width="2.87" fill="none"/>
</g>
<clipPath id="bo21"><ellipse cx="966.1" cy="605.4" rx="13.6" ry="12.7"/></clipPath>
<ellipse cx="966.1" cy="605.4" rx="14.7" ry="13.9" fill="#fdf0ea"/>
<g clip-path="url(#bo21)">
<ellipse cx="966.1" cy="605.4" rx="13.6" ry="12.7" fill="#f9bba2"/>
<ellipse cx="966.1" cy="605.4" rx="11.7" ry="10.8" fill="#b4431c"/>
<path d="M971.2 589.1 Q966.0 605.5 951.9 615.4" stroke="#f9bba2" stroke-width="2.49" fill="none"/>
<path d="M962.4 589.3 Q965.4 605.5 964.2 621.8" stroke="#f9bba2" stroke-width="2.99" fill="none"/>
</g>
<clipPath id="bo22"><ellipse cx="942.1" cy="606.2" rx="10.2" ry="8.5"/></clipPath>
<ellipse cx="942.1" cy="606.2" rx="11.3" ry="9.7" fill="#fdf0ea"/>
<g clip-path="url(#bo22)">
<ellipse cx="942.1" cy="606.2" rx="10.2" ry="8.5" fill="#f9bba2"/>
<ellipse cx="942.1" cy="606.2" rx="8.3" ry="6.6" fill="#b4431c"/>
<path d="M930.1 603.7 Q941.5 608.5 953.9 609.4" stroke="#f9bba2" stroke-width="2.85" fill="none"/>
<path d="M949.0 596.2 Q938.9 603.5 932.4 614.2" stroke="#f9bba2" stroke-width="2.87" fill="none"/>
<path d="M935.1 595.9 Q937.5 608.4 946.1 617.8" stroke="#f9bba2" stroke-width="2.81" fill="none"/>
</g>
<clipPath id="bo23"><ellipse cx="898.0" cy="607.8" rx="9.4" ry="6.9"/></clipPath>
<ellipse cx="898.0" cy="607.8" rx="10.5" ry="8.0" fill="#fdf0ea"/>
<g clip-path="url(#bo23)">
<ellipse cx="898.0" cy="607.8" rx="9.4" ry="6.9" fill="#f9bba2"/>
<ellipse cx="898.0" cy="607.8" rx="7.5" ry="4.9" fill="#b4431c"/>
<path d="M892.8 597.4 Q892.9 609.0 898.5 619.2" stroke="#f9bba2" stroke-width="2.40" fill="none"/>
<path d="M903.2 597.7 Q898.3 607.9 894.6 618.5" stroke="#f9bba2" stroke-width="2.45" fill="none"/>
<path d="M886.8 605.9 Q896.8 612.4 908.6 611.5" stroke="#f9bba2" stroke-width="2.82" fill="none"/>
</g>
<clipPath id="bo24"><ellipse cx="914.8" cy="607.8" rx="6.9" ry="4.7"/></clipPath>
<ellipse cx="914.8" cy="607.8" rx="8.0" ry="5.8" fill="#fdf0ea"/>
<g clip-path="url(#bo24)">
<ellipse cx="914.8" cy="607.8" rx="6.9" ry="4.7" fill="#f9bba2"/>
<ellipse cx="914.8" cy="607.8" rx="4.9" ry="2.8" fill="#b4431c"/>
</g>
<clipPath id="bo25"><ellipse cx="927.3" cy="607.0" rx="3.5" ry="2.6"/></clipPath>
<ellipse cx="927.3" cy="607.0" rx="4.6" ry="3.8" fill="#fdf0ea"/>
<g clip-path="url(#bo25)">
<ellipse cx="927.3" cy="607.0" rx="3.5" ry="2.6" fill="#f9bba2"/>
<ellipse cx="927.3" cy="607.0" rx="2.1" ry="1.6" fill="#b4431c"/>
</g>
<clipPath id="bo26"><ellipse cx="988.6" cy="614.2" rx="16.9" ry="13.6" transform="rotate(-10 988.6 614.2)"/></clipPath>
<ellipse cx="988.6" cy="614.2" rx="18.1" ry="14.7" fill="#fdf0ea" transform="rotate(-10 988.6 614.2)"/>
<g clip-path="url(#bo26)">
<ellipse cx="988.6" cy="614.2" rx="16.9" ry="13.6" fill="#f9bba2" transform="rotate(-10 988.6 614.2)"/>
<ellipse cx="988.6" cy="614.2" rx="15.0" ry="11.7" fill="#b4431c" transform="rotate(-10 988.6 614.2)"/>
<path d="M1003.2 599.8 Q987.3 612.9 976.5 630.5" stroke="#f9bba2" stroke-width="2.41" fill="none"/>
<path d="M979.7 595.0 Q989.3 613.9 987.3 635.0" stroke="#f9bba2" stroke-width="2.65" fill="none"/>
<path d="M968.2 613.6 Q988.4 615.2 1008.7 617.4" stroke="#f9bba2" stroke-width="1.93" fill="none"/>
<path d="M1000.5 597.7 Q987.3 613.3 976.7 630.8" stroke="#f9bba2" stroke-width="2.88" fill="none"/>
</g>
<clipPath id="bo27"><ellipse cx="918.9" cy="620.7" rx="16.9" ry="10.2" transform="rotate(-5 918.9 620.7)"/></clipPath>
<ellipse cx="918.9" cy="620.7" rx="18.1" ry="11.3" fill="#fdf0ea" transform="rotate(-5 918.9 620.7)"/>
<g clip-path="url(#bo27)">
<ellipse cx="918.9" cy="620.7" rx="16.9" ry="10.2" fill="#f9bba2" transform="rotate(-5 918.9 620.7)"/>
<ellipse cx="918.9" cy="620.7" rx="15.0" ry="8.3" fill="#b4431c" transform="rotate(-5 918.9 620.7)"/>
<path d="M910.1 602.9 Q926.3 615.6 938.3 632.2" stroke="#f9bba2" stroke-width="2.55" fill="none"/>
</g>
<clipPath id="bo28"><ellipse cx="893.2" cy="621.5" rx="5.2" ry="9.4"/></clipPath>
<ellipse cx="893.2" cy="621.5" rx="6.3" ry="10.5" fill="#fdf0ea"/>
<g clip-path="url(#bo28)">
<ellipse cx="893.2" cy="621.5" rx="5.2" ry="9.4" fill="#f9bba2"/>
<ellipse cx="893.2" cy="621.5" rx="3.2" ry="7.5" fill="#b4431c"/>
<path d="M885.1 612.5 Q892.2 621.8 903.2 625.9" stroke="#f9bba2" stroke-width="2.52" fill="none"/>
</g>
<clipPath id="bo29"><ellipse cx="940.5" cy="621.5" rx="6.3" ry="5.2"/></clipPath>
<ellipse cx="940.5" cy="621.5" rx="7.5" ry="6.3" fill="#fdf0ea"/>
<g clip-path="url(#bo29)">
<ellipse cx="940.5" cy="621.5" rx="6.3" ry="5.2" fill="#f9bba2"/>
<ellipse cx="940.5" cy="621.5" rx="4.4" ry="3.2" fill="#b4431c"/>
</g>
<clipPath id="bo30"><ellipse cx="958.1" cy="626.3" rx="9.4" ry="11.1"/></clipPath>
<ellipse cx="958.1" cy="626.3" rx="10.5" ry="12.2" fill="#fdf0ea"/>
<g clip-path="url(#bo30)">
<ellipse cx="958.1" cy="626.3" rx="9.4" ry="11.1" fill="#f9bba2"/>
<ellipse cx="958.1" cy="626.3" rx="7.5" ry="9.1" fill="#b4431c"/>
<path d="M952.5 613.9 Q956.4 626.7 957.3 640.0" stroke="#f9bba2" stroke-width="2.53" fill="none"/>
<path d="M947.7 618.0 Q956.8 628.0 969.2 633.4" stroke="#f9bba2" stroke-width="2.87" fill="none"/>
</g>
<clipPath id="bo31"><ellipse cx="903.6" cy="635.1" rx="9.4" ry="7.4"/></clipPath>
<ellipse cx="903.6" cy="635.1" rx="10.5" ry="8.5" fill="#fdf0ea"/>
<g clip-path="url(#bo31)">
<ellipse cx="903.6" cy="635.1" rx="9.4" ry="7.4" fill="#f9bba2"/>
<ellipse cx="903.6" cy="635.1" rx="7.5" ry="5.4" fill="#b4431c"/>
<path d="M914.4 631.7 Q903.7 635.2 893.5 639.9" stroke="#f9bba2" stroke-width="2.05" fill="none"/>
<path d="M893.4 630.4 Q902.5 637.5 913.9 639.7" stroke="#f9bba2" stroke-width="2.78" fill="none"/>
<path d="M907.6 624.4 Q902.0 634.3 893.7 642.1" stroke="#f9bba2" stroke-width="1.84" fill="none"/>
<path d="M903.8 623.7 Q907.7 634.5 907.2 646.0" stroke="#f9bba2" stroke-width="2.18" fill="none"/>
</g>
<clipPath id="bo32"><ellipse cx="920.5" cy="637.8" rx="7.7" ry="4.3"/></clipPath>
<ellipse cx="920.5" cy="637.8" rx="8.8" ry="5.4" fill="#fdf0ea"/>
<g clip-path="url(#bo32)">
<ellipse cx="920.5" cy="637.8" rx="7.7" ry="4.3" fill="#f9bba2"/>
<ellipse cx="920.5" cy="637.8" rx="5.8" ry="2.6" fill="#b4431c"/>
<path d="M924.0 629.3 Q921.6 638.3 916.9 646.3" stroke="#f9bba2" stroke-width="2.77" fill="none"/>
</g>
<clipPath id="bo33"><ellipse cx="937.3" cy="635.1" rx="11.9" ry="7.7"/></clipPath>
<ellipse cx="937.3" cy="635.1" rx="13.0" ry="8.8" fill="#fdf0ea"/>
<g clip-path="url(#bo33)">
<ellipse cx="937.3" cy="635.1" rx="11.9" ry="7.7" fill="#f9bba2"/>
<ellipse cx="937.3" cy="635.1" rx="10.0" ry="5.8" fill="#b4431c"/>
<path d="M951.6 634.6 Q937.6 639.6 923.1 636.2" stroke="#f9bba2" stroke-width="1.65" fill="none"/>
<path d="M952.3 632.4 Q938.4 636.1 926.0 643.6" stroke="#f9bba2" stroke-width="2.40" fill="none"/>
<path d="M926.6 624.4 Q938.7 633.5 942.8 648.0" stroke="#f9bba2" stroke-width="1.80" fill="none"/>
</g>
<clipPath id="bo34"><ellipse cx="989.4" cy="634.0" rx="8.5" ry="6.9"/></clipPath>
<ellipse cx="989.4" cy="634.0" rx="9.7" ry="8.0" fill="#fdf0ea"/>
<g clip-path="url(#bo34)">
<ellipse cx="989.4" cy="634.0" rx="8.5" ry="6.9" fill="#f9bba2"/>
<ellipse cx="989.4" cy="634.0" rx="6.6" ry="4.9" fill="#b4431c"/>
<path d="M991.5 623.4 Q990.6 633.9 994.4 643.7" stroke="#f9bba2" stroke-width="1.94" fill="none"/>
<path d="M981.6 627.0 Q990.5 632.3 1000.1 635.8" stroke="#f9bba2" stroke-width="2.23" fill="none"/>
</g>
<clipPath id="bo35"><ellipse cx="998.2" cy="626.3" rx="4.3" ry="3.5"/></clipPath>
<ellipse cx="998.2" cy="626.3" rx="5.4" ry="4.6" fill="#fdf0ea"/>
<g clip-path="url(#bo35)">
<ellipse cx="998.2" cy="626.3" rx="4.3" ry="3.5" fill="#f9bba2"/>
<ellipse cx="998.2" cy="626.3" rx="2.6" ry="2.1" fill="#b4431c"/>
</g>
<clipPath id="bo36"><ellipse cx="934.1" cy="586.5" rx="7.4" ry="4.7" transform="rotate(-20 934.1 586.5)"/></clipPath>
<ellipse cx="934.1" cy="586.5" rx="8.5" ry="5.8" fill="#fdf0ea" transform="rotate(-20 934.1 586.5)"/>
<g clip-path="url(#bo36)">
<ellipse cx="934.1" cy="586.5" rx="7.4" ry="4.7" fill="#f9bba2" transform="rotate(-20 934.1 586.5)"/>
<ellipse cx="934.1" cy="586.5" rx="5.4" ry="2.8" fill="#b4431c" transform="rotate(-20 934.1 586.5)"/>
<path d="M936.6 578.2 Q931.4 585.5 929.6 594.4" stroke="#f9bba2" stroke-width="2.93" fill="none"/>
<path d="M940.6 579.8 Q935.9 587.3 930.9 594.6" stroke="#f9bba2" stroke-width="1.86" fill="none"/>
<path d="M925.3 586.1 Q934.0 587.7 942.9 586.7" stroke="#f9bba2" stroke-width="1.86" fill="none"/>
</g>
<ellipse cx="973.3" cy="632.3" rx="2.9" ry="2.6" fill="#f7b49a"/>
</g>
<rect x="889.2" y="530.2" width="114.2" height="113.2" fill="none" stroke="#000" stroke-width="2.2"/>
<!--TITLE-->
<path d="M314.4 39.0 L313.5 71.6 M314.4 39.0 C322.0 37.6 331.0 39.5 331.2 46.5 C331.4 52.5 324.5 56.0 317.0 57.7 C325.0 58.0 333.0 60.0 332.8 64.8 C332.6 69.5 323.0 71.4 313.5 71.6 M349.2 51.2 C343.8 51.2 341.2 56.5 341.2 61.8 C341.2 67.5 344.4 71.9 349.4 71.9 C354.4 71.9 357.2 67.2 357.2 61.4 C357.2 55.8 354.5 51.2 349.2 51.2 Z M367.4 50.3 L367.2 72.2 M367.3 62.0 C368.5 55.5 372.5 50.8 377.5 50.6 C381.5 50.5 382.6 53.5 382.7 57.0 L383.1 72.8 M392.6 62.0 L407.3 56.0 C407.8 52.8 404.0 51.0 400.4 51.1 C394.8 51.3 391.0 56.2 391.0 62.0 C391.0 68.5 395.5 72.0 400.5 72.0 C405.0 72.0 408.5 70.0 410.7 67.6 M432.4 49.7 L432.4 72.2 M432.6 61.5 C433.5 55.0 437.5 50.4 441.6 50.2 C444.6 50.1 445.4 53.0 445.5 56.5 L446.4 73.6 M445.7 61.0 C446.6 55.0 450.6 50.6 454.6 50.5 C457.4 50.4 458.2 53.3 458.4 56.5 L459.6 72.6 M471.1 52.0 L470.8 71.0 M482.9 50.3 L482.7 72.2 M482.8 62.0 C484.0 55.5 488.0 50.8 493.0 50.6 C497.0 50.5 498.1 53.5 498.2 57.0 L498.6 72.8 M507.9 62.0 L522.6 56.0 C523.1 52.8 519.3 51.0 515.7 51.1 C510.1 51.3 506.3 56.2 506.3 62.0 C506.3 68.5 510.8 72.0 515.8 72.0 C520.3 72.0 523.8 70.0 526.0 67.6 M534.0 50.8 L533.7 72.8 M533.9 59.5 C535.0 54.0 539.0 50.5 543.2 50.4 C546.4 50.4 547.6 53.0 547.5 56.8 M571.6 54.4 C570.0 51.8 567.5 50.6 564.6 50.8 C559.0 51.2 555.4 56.0 555.4 61.5 C555.4 67.5 558.6 71.8 563.6 71.8 C568.0 71.8 570.6 68.0 571.2 63.5 M571.4 52.0 L571.2 66.5 C571.4 69.5 572.2 71.8 573.6 73.4 M582.6 38.5 L582.1 72.2 M625.6 56.5 C624.0 53.0 621.0 51.0 617.6 51.2 C611.8 51.5 607.8 56.2 607.8 61.8 C607.8 67.6 611.4 71.8 616.6 71.8 C621.2 71.8 624.4 68.6 625.4 64.0 M626.2 38.5 L625.3 71.6 M637.0 62.0 L651.7 56.0 C652.2 52.8 648.4 51.0 644.8 51.1 C639.2 51.3 635.4 56.2 635.4 62.0 C635.4 68.5 639.9 72.0 644.9 72.0 C649.4 72.0 652.9 70.0 655.1 67.6 M662.5 50.3 L662.3 72.2 M662.4 62.0 C663.6 55.5 667.6 50.8 672.6 50.6 C676.6 50.5 677.7 53.5 677.8 57.0 L678.2 72.8 M700.9 51.4 C698.0 49.6 694.0 49.0 691.0 49.8 C687.6 50.7 685.8 53.2 686.2 55.8 C686.8 59.5 691.5 60.6 695.0 61.6 C698.5 62.6 701.4 64.2 701.4 67.2 C701.4 70.8 697.4 72.8 693.0 72.8 C690.0 72.8 687.2 71.9 685.2 70.4 M711.8 52.0 L711.5 71.0 M729.4 43.0 L729.5 72.2 M722.3 50.8 L737.6 50.8 M761.6 51.2 L748.1 84.2 M743.6 51.2 L754.3 68.6" fill="none" stroke="#000" stroke-width="4.6" stroke-linecap="round" stroke-linejoin="round"/><circle cx="471.7" cy="41.1" r="2.75" fill="#000"/><circle cx="712.4" cy="40.8" r="2.75" fill="#000"/>
</svg></body></html>
